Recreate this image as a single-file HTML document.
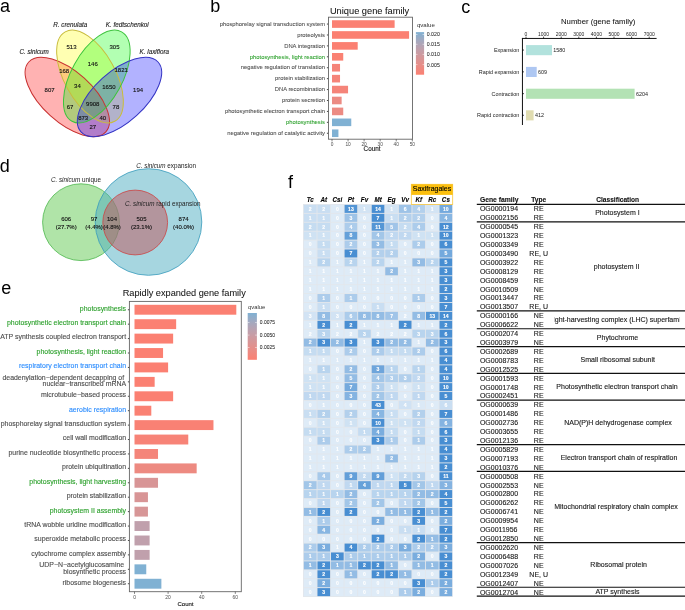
<!DOCTYPE html>
<html><head><meta charset="utf-8"><style>
html,body{margin:0;padding:0;background:#fff;}
body{width:685px;height:610px;overflow:hidden;}
svg{display:block;will-change:transform;font-family:"Liberation Sans",sans-serif;}
</style></head><body>
<svg width="685" height="610" viewBox="0 0 685 610">
<text x="0.00" y="12.30" font-size="18" text-anchor="start" fill="#000">a</text>
<text x="210.30" y="12.30" font-size="18" text-anchor="start" fill="#000">b</text>
<text x="461.20" y="12.80" font-size="18" text-anchor="start" fill="#000">c</text>
<text x="-0.30" y="171.60" font-size="18" text-anchor="start" fill="#000">d</text>
<text x="1.30" y="293.80" font-size="18" text-anchor="start" fill="#000">e</text>
<text x="288.00" y="187.50" font-size="18" text-anchor="start" fill="#000">f</text>
<ellipse cx="67.30" cy="96.95" rx="52.0" ry="25.3" transform="rotate(42.2 67.30 96.95)" fill="#ff0000" fill-opacity="0.3"/>
<ellipse cx="90.00" cy="76.55" rx="51.1" ry="25.5" transform="rotate(61.0 90.00 76.55)" fill="#ffff00" fill-opacity="0.3"/>
<ellipse cx="96.80" cy="76.55" rx="51.1" ry="25.5" transform="rotate(119.0 96.80 76.55)" fill="#00ff00" fill-opacity="0.3"/>
<ellipse cx="119.50" cy="96.95" rx="52.0" ry="25.3" transform="rotate(137.8 119.50 96.95)" fill="#0000ff" fill-opacity="0.3"/>
<ellipse cx="67.30" cy="96.95" rx="52.0" ry="25.3" transform="rotate(42.2 67.30 96.95)" fill="none" stroke="#c83030" stroke-width="1"/>
<ellipse cx="90.00" cy="76.55" rx="51.1" ry="25.5" transform="rotate(61.0 90.00 76.55)" fill="none" stroke="#c9bd3c" stroke-width="1"/>
<ellipse cx="96.80" cy="76.55" rx="51.1" ry="25.5" transform="rotate(119.0 96.80 76.55)" fill="none" stroke="#3cc43c" stroke-width="1"/>
<ellipse cx="119.50" cy="96.95" rx="52.0" ry="25.3" transform="rotate(137.8 119.50 96.95)" fill="none" stroke="#3434c4" stroke-width="1"/>
<text x="71.50" y="48.85" font-size="6.0" text-anchor="middle" fill="#111" stroke="#111" stroke-width="0.12">513</text>
<text x="114.50" y="48.85" font-size="6.0" text-anchor="middle" fill="#111" stroke="#111" stroke-width="0.12">305</text>
<text x="92.80" y="65.75" font-size="6.0" text-anchor="middle" fill="#111" stroke="#111" stroke-width="0.12">146</text>
<text x="64.20" y="73.05" font-size="6.0" text-anchor="middle" fill="#111" stroke="#111" stroke-width="0.12">168</text>
<text x="121.20" y="72.25" font-size="6.0" text-anchor="middle" fill="#111" stroke="#111" stroke-width="0.12">1821</text>
<text x="49.60" y="91.75" font-size="6.0" text-anchor="middle" fill="#111" stroke="#111" stroke-width="0.12">807</text>
<text x="77.40" y="88.25" font-size="6.0" text-anchor="middle" fill="#111" stroke="#111" stroke-width="0.12">34</text>
<text x="108.90" y="88.85" font-size="6.0" text-anchor="middle" fill="#111" stroke="#111" stroke-width="0.12">1650</text>
<text x="138.10" y="92.05" font-size="6.0" text-anchor="middle" fill="#111" stroke="#111" stroke-width="0.12">194</text>
<text x="70.10" y="108.75" font-size="6.0" text-anchor="middle" fill="#111" stroke="#111" stroke-width="0.12">67</text>
<text x="92.80" y="105.75" font-size="6.0" text-anchor="middle" fill="#111" stroke="#111" stroke-width="0.12">9908</text>
<text x="115.90" y="109.35" font-size="6.0" text-anchor="middle" fill="#111" stroke="#111" stroke-width="0.12">78</text>
<text x="83.20" y="119.85" font-size="6.0" text-anchor="middle" fill="#111" stroke="#111" stroke-width="0.12">873</text>
<text x="102.80" y="119.85" font-size="6.0" text-anchor="middle" fill="#111" stroke="#111" stroke-width="0.12">40</text>
<text x="92.80" y="129.15" font-size="6.0" text-anchor="middle" fill="#111" stroke="#111" stroke-width="0.12">27</text>
<text x="53.30" y="27.00" font-size="6.3" text-anchor="start" fill="#222" stroke="#222" stroke-width="0.12" font-style="italic">R. crenulata</text>
<text x="19.40" y="54.00" font-size="6.3" text-anchor="start" fill="#222" stroke="#222" stroke-width="0.12" font-style="italic">C. sinicum</text>
<text x="105.70" y="27.00" font-size="6.3" text-anchor="start" fill="#222" stroke="#222" stroke-width="0.12" font-style="italic">K. fedtschenkoi</text>
<text x="139.60" y="54.20" font-size="6.3" text-anchor="start" fill="#222" stroke="#222" stroke-width="0.12" font-style="italic">K. laxiflora</text>
<text x="369.60" y="14.30" font-size="9.27" text-anchor="middle" fill="#111" stroke="#111" stroke-width="0.05">Unique gene family</text>
<rect x="332.0" y="20.25" width="62.63" height="7.6" fill="#fb8072"/>
<line x1="326.9" y1="24.05" x2="328.5" y2="24.05" stroke="#333" stroke-width="0.9"/>
<text x="325.00" y="25.80" font-size="5.83" text-anchor="end" fill="#4d4d4d" stroke="#4d4d4d" stroke-width="0.07">phosphorelay signal transduction system</text>
<rect x="332.0" y="31.17" width="77.09" height="7.6" fill="#fb8072"/>
<line x1="326.9" y1="34.97" x2="328.5" y2="34.97" stroke="#333" stroke-width="0.9"/>
<text x="325.00" y="36.72" font-size="5.83" text-anchor="end" fill="#4d4d4d" stroke="#4d4d4d" stroke-width="0.07">proteolysis</text>
<rect x="332.0" y="42.09" width="25.70" height="7.6" fill="#fb8072"/>
<line x1="326.9" y1="45.89" x2="328.5" y2="45.89" stroke="#333" stroke-width="0.9"/>
<text x="325.00" y="47.64" font-size="5.83" text-anchor="end" fill="#4d4d4d" stroke="#4d4d4d" stroke-width="0.07">DNA integration</text>
<rect x="332.0" y="53.01" width="11.24" height="7.6" fill="#fa8173"/>
<line x1="326.9" y1="56.81" x2="328.5" y2="56.81" stroke="#333" stroke-width="0.9"/>
<text x="325.00" y="58.56" font-size="5.83" text-anchor="end" fill="#2ca02c" stroke="#2ca02c" stroke-width="0.07">photosynthesis, light reaction</text>
<rect x="332.0" y="63.93" width="8.03" height="7.6" fill="#f58479"/>
<line x1="326.9" y1="67.73" x2="328.5" y2="67.73" stroke="#333" stroke-width="0.9"/>
<text x="325.00" y="69.48" font-size="5.83" text-anchor="end" fill="#4d4d4d" stroke="#4d4d4d" stroke-width="0.07">negative regulation of translation</text>
<rect x="332.0" y="74.85" width="8.03" height="7.6" fill="#f58479"/>
<line x1="326.9" y1="78.65" x2="328.5" y2="78.65" stroke="#333" stroke-width="0.9"/>
<text x="325.00" y="80.40" font-size="5.83" text-anchor="end" fill="#4d4d4d" stroke="#4d4d4d" stroke-width="0.07">protein stabilization</text>
<rect x="332.0" y="85.77" width="16.06" height="7.6" fill="#f58479"/>
<line x1="326.9" y1="89.57" x2="328.5" y2="89.57" stroke="#333" stroke-width="0.9"/>
<text x="325.00" y="91.32" font-size="5.83" text-anchor="end" fill="#4d4d4d" stroke="#4d4d4d" stroke-width="0.07">DNA recombination</text>
<rect x="332.0" y="96.69" width="9.64" height="7.6" fill="#ec8b83"/>
<line x1="326.9" y1="100.49" x2="328.5" y2="100.49" stroke="#333" stroke-width="0.9"/>
<text x="325.00" y="102.24" font-size="5.83" text-anchor="end" fill="#4d4d4d" stroke="#4d4d4d" stroke-width="0.07">protein secretion</text>
<rect x="332.0" y="107.61" width="11.24" height="7.6" fill="#ec8b83"/>
<line x1="326.9" y1="111.41" x2="328.5" y2="111.41" stroke="#333" stroke-width="0.9"/>
<text x="325.00" y="113.16" font-size="5.83" text-anchor="end" fill="#4d4d4d" stroke="#4d4d4d" stroke-width="0.07">photosynthetic electron transport chain</text>
<rect x="332.0" y="118.53" width="19.27" height="7.6" fill="#80b1d3"/>
<line x1="326.9" y1="122.33" x2="328.5" y2="122.33" stroke="#333" stroke-width="0.9"/>
<text x="325.00" y="124.08" font-size="5.83" text-anchor="end" fill="#2ca02c" stroke="#2ca02c" stroke-width="0.07">photosynthesis</text>
<rect x="332.0" y="129.45" width="6.42" height="7.6" fill="#80b1d3"/>
<line x1="326.9" y1="133.25" x2="328.5" y2="133.25" stroke="#333" stroke-width="0.9"/>
<text x="325.00" y="135.00" font-size="5.83" text-anchor="end" fill="#4d4d4d" stroke="#4d4d4d" stroke-width="0.07">negative regulation of catalytic activity</text>
<rect x="328.5" y="17.2" width="84.0" height="121.99999999999999" fill="none" stroke="#666" stroke-width="0.9"/>
<line x1="332.00" y1="139.2" x2="332.00" y2="141.39999999999998" stroke="#333" stroke-width="0.6"/>
<text x="332.00" y="146.30" font-size="4.8" text-anchor="middle" fill="#4d4d4d">0</text>
<line x1="348.06" y1="139.2" x2="348.06" y2="141.39999999999998" stroke="#333" stroke-width="0.6"/>
<text x="348.06" y="146.30" font-size="4.8" text-anchor="middle" fill="#4d4d4d">10</text>
<line x1="364.12" y1="139.2" x2="364.12" y2="141.39999999999998" stroke="#333" stroke-width="0.6"/>
<text x="364.12" y="146.30" font-size="4.8" text-anchor="middle" fill="#4d4d4d">20</text>
<line x1="380.18" y1="139.2" x2="380.18" y2="141.39999999999998" stroke="#333" stroke-width="0.6"/>
<text x="380.18" y="146.30" font-size="4.8" text-anchor="middle" fill="#4d4d4d">30</text>
<line x1="396.24" y1="139.2" x2="396.24" y2="141.39999999999998" stroke="#333" stroke-width="0.6"/>
<text x="396.24" y="146.30" font-size="4.8" text-anchor="middle" fill="#4d4d4d">40</text>
<line x1="412.30" y1="139.2" x2="412.30" y2="141.39999999999998" stroke="#333" stroke-width="0.6"/>
<text x="412.30" y="146.30" font-size="4.8" text-anchor="middle" fill="#4d4d4d">50</text>
<text x="372.00" y="151.30" font-size="6.3" text-anchor="middle" fill="#111" stroke="#111" stroke-width="0.12">Count</text>
<defs><linearGradient id="gq" x1="0" y1="1" x2="0" y2="0"><stop offset="0" stop-color="#fb8072"/><stop offset="0.2" stop-color="#ea8c85"/><stop offset="0.4" stop-color="#d69698"/><stop offset="0.6" stop-color="#c0a0ac"/><stop offset="0.8" stop-color="#a4a9bf"/><stop offset="1" stop-color="#80b1d3"/></linearGradient></defs>
<text x="416.90" y="26.70" font-size="6.1" text-anchor="start" fill="#333">qvalue</text>
<rect x="415.9" y="32.1" width="8.2" height="42.6" fill="url(#gq)"/>
<line x1="415.9" y1="34.5" x2="417.5" y2="34.5" stroke="#fff" stroke-width="0.5"/>
<line x1="422.5" y1="34.5" x2="424.1" y2="34.5" stroke="#fff" stroke-width="0.5"/>
<text x="426.80" y="36.40" font-size="5.2" text-anchor="start" fill="#222" stroke="#222" stroke-width="0.04">0.020</text>
<line x1="415.9" y1="44.3" x2="417.5" y2="44.3" stroke="#fff" stroke-width="0.5"/>
<line x1="422.5" y1="44.3" x2="424.1" y2="44.3" stroke="#fff" stroke-width="0.5"/>
<text x="426.80" y="46.20" font-size="5.2" text-anchor="start" fill="#222" stroke="#222" stroke-width="0.04">0.015</text>
<line x1="415.9" y1="54.4" x2="417.5" y2="54.4" stroke="#fff" stroke-width="0.5"/>
<line x1="422.5" y1="54.4" x2="424.1" y2="54.4" stroke="#fff" stroke-width="0.5"/>
<text x="426.80" y="56.30" font-size="5.2" text-anchor="start" fill="#222" stroke="#222" stroke-width="0.04">0.010</text>
<line x1="415.9" y1="64.6" x2="417.5" y2="64.6" stroke="#fff" stroke-width="0.5"/>
<line x1="422.5" y1="64.6" x2="424.1" y2="64.6" stroke="#fff" stroke-width="0.5"/>
<text x="426.80" y="66.50" font-size="5.2" text-anchor="start" fill="#222" stroke="#222" stroke-width="0.04">0.005</text>
<text x="598.20" y="23.80" font-size="7.74" text-anchor="middle" fill="#111" stroke="#111" stroke-width="0.05">Number (gene family)</text>
<line x1="521.95" y1="38.45" x2="656.6" y2="38.45" stroke="#111" stroke-width="1.0"/>
<line x1="522.45" y1="37.95" x2="522.45" y2="125.0" stroke="#111" stroke-width="1.0"/>
<line x1="526.00" y1="36.6" x2="526.00" y2="38.5" stroke="#000" stroke-width="0.7"/>
<text x="526.00" y="35.80" font-size="5.0" text-anchor="middle" fill="#222">0</text>
<line x1="543.60" y1="36.6" x2="543.60" y2="38.5" stroke="#000" stroke-width="0.7"/>
<text x="543.60" y="35.80" font-size="5.0" text-anchor="middle" fill="#222">1000</text>
<line x1="561.20" y1="36.6" x2="561.20" y2="38.5" stroke="#000" stroke-width="0.7"/>
<text x="561.20" y="35.80" font-size="5.0" text-anchor="middle" fill="#222">2000</text>
<line x1="578.80" y1="36.6" x2="578.80" y2="38.5" stroke="#000" stroke-width="0.7"/>
<text x="578.80" y="35.80" font-size="5.0" text-anchor="middle" fill="#222">3000</text>
<line x1="596.40" y1="36.6" x2="596.40" y2="38.5" stroke="#000" stroke-width="0.7"/>
<text x="596.40" y="35.80" font-size="5.0" text-anchor="middle" fill="#222">4000</text>
<line x1="614.00" y1="36.6" x2="614.00" y2="38.5" stroke="#000" stroke-width="0.7"/>
<text x="614.00" y="35.80" font-size="5.0" text-anchor="middle" fill="#222">5000</text>
<line x1="631.60" y1="36.6" x2="631.60" y2="38.5" stroke="#000" stroke-width="0.7"/>
<text x="631.60" y="35.80" font-size="5.0" text-anchor="middle" fill="#222">6000</text>
<line x1="649.20" y1="36.6" x2="649.20" y2="38.5" stroke="#000" stroke-width="0.7"/>
<text x="649.20" y="35.80" font-size="5.0" text-anchor="middle" fill="#222">7000</text>
<rect x="526.0" y="45.1" width="26.00" height="10.1" fill="#b2e2dd"/>
<line x1="522.4" y1="50.05" x2="523.9" y2="50.05" stroke="#000" stroke-width="0.8"/>
<text x="519.30" y="52.00" font-size="5.44" text-anchor="end" fill="#1a1a1a">Expansion</text>
<text x="553.30" y="52.00" font-size="5.4" text-anchor="start" fill="#1a1a1a">1580</text>
<rect x="526.0" y="66.9" width="10.70" height="10.1" fill="#aec7f2"/>
<line x1="522.4" y1="71.85" x2="523.9" y2="71.85" stroke="#000" stroke-width="0.8"/>
<text x="519.30" y="73.80" font-size="5.44" text-anchor="end" fill="#1a1a1a">Rapid expansion</text>
<text x="538.00" y="73.80" font-size="5.4" text-anchor="start" fill="#1a1a1a">609</text>
<rect x="526.0" y="88.7" width="108.60" height="10.1" fill="#b3e2b4"/>
<line x1="522.4" y1="93.65" x2="523.9" y2="93.65" stroke="#000" stroke-width="0.8"/>
<text x="519.30" y="95.60" font-size="5.44" text-anchor="end" fill="#1a1a1a">Contraction</text>
<text x="635.90" y="95.60" font-size="5.4" text-anchor="start" fill="#1a1a1a">6204</text>
<rect x="526.0" y="110.3" width="7.60" height="10.1" fill="#e0dcb0"/>
<line x1="522.4" y1="115.25" x2="523.9" y2="115.25" stroke="#000" stroke-width="0.8"/>
<text x="519.30" y="117.20" font-size="5.44" text-anchor="end" fill="#1a1a1a">Rapid contraction</text>
<text x="534.90" y="117.20" font-size="5.4" text-anchor="start" fill="#1a1a1a">412</text>
<circle cx="81.0" cy="222.2" r="38.4" fill="#61c951" fill-opacity="0.5" stroke="#4cb84c" stroke-width="0.8"/>
<circle cx="148.5" cy="222.0" r="53.3" fill="#4dadc1" fill-opacity="0.5" stroke="#3a9cbc" stroke-width="0.8"/>
<circle cx="135.2" cy="222.5" r="32.4" fill="#c2565c" fill-opacity="0.5" stroke="#cc4444" stroke-width="0.8"/>
<text x="66.20" y="221.20" font-size="6.0" text-anchor="middle" fill="#111" stroke="#111" stroke-width="0.12">606</text>
<text x="66.20" y="228.60" font-size="6.0" text-anchor="middle" fill="#111" stroke="#111" stroke-width="0.12">(27.7%)</text>
<text x="94.00" y="221.20" font-size="6.0" text-anchor="middle" fill="#111" stroke="#111" stroke-width="0.12">97</text>
<text x="94.00" y="228.60" font-size="6.0" text-anchor="middle" fill="#111" stroke="#111" stroke-width="0.12">(4.4%)</text>
<text x="112.00" y="221.20" font-size="6.0" text-anchor="middle" fill="#111" stroke="#111" stroke-width="0.12">104</text>
<text x="112.00" y="228.60" font-size="6.0" text-anchor="middle" fill="#111" stroke="#111" stroke-width="0.12">(4.8%)</text>
<text x="141.50" y="221.20" font-size="6.0" text-anchor="middle" fill="#111" stroke="#111" stroke-width="0.12">505</text>
<text x="141.50" y="228.60" font-size="6.0" text-anchor="middle" fill="#111" stroke="#111" stroke-width="0.12">(23.1%)</text>
<text x="183.60" y="221.20" font-size="6.0" text-anchor="middle" fill="#111" stroke="#111" stroke-width="0.12">874</text>
<text x="183.60" y="228.60" font-size="6.0" text-anchor="middle" fill="#111" stroke="#111" stroke-width="0.12">(40.0%)</text>
<text x="50.9" y="182.0" font-size="6.3" fill="#222"><tspan font-style="italic">C. sinicum</tspan> unique</text>
<text x="136.2" y="167.7" font-size="6.3" fill="#222"><tspan font-style="italic">C. sinicum</tspan> expansion</text>
<text x="125.0" y="205.9" font-size="6.3" fill="#222"><tspan font-style="italic">C. sinicum</tspan> rapid expansion</text>
<text x="184.20" y="295.70" font-size="9.2" text-anchor="middle" fill="#111" stroke="#111" stroke-width="0.05">Rapidly expanded gene family</text>
<rect x="134.5" y="304.80" width="101.81" height="9.9" fill="#fb8072"/>
<line x1="127.9" y1="309.75" x2="129.4" y2="309.75" stroke="#333" stroke-width="0.9"/>
<text x="126.10" y="310.65" font-size="6.95" text-anchor="end" fill="#2ca02c" stroke="#2ca02c" stroke-width="0.12">photosynthesis</text>
<rect x="134.5" y="319.22" width="41.66" height="9.9" fill="#fb8072"/>
<line x1="127.9" y1="324.17" x2="129.4" y2="324.17" stroke="#333" stroke-width="0.9"/>
<text x="126.10" y="325.07" font-size="6.95" text-anchor="end" fill="#2ca02c" stroke="#2ca02c" stroke-width="0.12">photosynthetic electron transport chain</text>
<rect x="134.5" y="333.64" width="38.64" height="9.9" fill="#fb8072"/>
<line x1="127.9" y1="338.59" x2="129.4" y2="338.59" stroke="#333" stroke-width="0.9"/>
<text x="126.10" y="339.49" font-size="6.95" text-anchor="end" fill="#4d4d4d" stroke="#4d4d4d" stroke-width="0.12">ATP synthesis coupled electron transport</text>
<rect x="134.5" y="348.06" width="28.56" height="9.9" fill="#fb8072"/>
<line x1="127.9" y1="353.01" x2="129.4" y2="353.01" stroke="#333" stroke-width="0.9"/>
<text x="126.10" y="353.91" font-size="6.95" text-anchor="end" fill="#2ca02c" stroke="#2ca02c" stroke-width="0.12">photosynthesis, light reaction</text>
<rect x="134.5" y="362.48" width="33.60" height="9.9" fill="#fb8072"/>
<line x1="127.9" y1="367.43" x2="129.4" y2="367.43" stroke="#333" stroke-width="0.9"/>
<text x="126.10" y="368.33" font-size="6.95" text-anchor="end" fill="#2b8cff" stroke="#2b8cff" stroke-width="0.12">respiratory electron transport chain</text>
<rect x="134.5" y="376.90" width="20.16" height="9.9" fill="#fb8072"/>
<line x1="127.9" y1="381.85" x2="129.4" y2="381.85" stroke="#333" stroke-width="0.9"/>
<text x="124.17" y="379.95" font-size="6.95" text-anchor="end" fill="#4d4d4d" stroke="#4d4d4d" stroke-width="0.12">deadenylation−dependent decapping of</text>
<text x="126.10" y="386.45" font-size="6.95" text-anchor="end" fill="#4d4d4d" stroke="#4d4d4d" stroke-width="0.12">nuclear−transcribed mRNA</text>
<rect x="134.5" y="391.32" width="38.64" height="9.9" fill="#fb8072"/>
<line x1="127.9" y1="396.27" x2="129.4" y2="396.27" stroke="#333" stroke-width="0.9"/>
<text x="126.10" y="397.17" font-size="6.95" text-anchor="end" fill="#4d4d4d" stroke="#4d4d4d" stroke-width="0.12">microtubule−based process</text>
<rect x="134.5" y="405.74" width="16.80" height="9.9" fill="#fa8173"/>
<line x1="127.9" y1="410.69" x2="129.4" y2="410.69" stroke="#333" stroke-width="0.9"/>
<text x="126.10" y="411.59" font-size="6.95" text-anchor="end" fill="#2b8cff" stroke="#2b8cff" stroke-width="0.12">aerobic respiration</text>
<rect x="134.5" y="420.16" width="78.96" height="9.9" fill="#f98174"/>
<line x1="127.9" y1="425.11" x2="129.4" y2="425.11" stroke="#333" stroke-width="0.9"/>
<text x="126.10" y="426.01" font-size="6.95" text-anchor="end" fill="#4d4d4d" stroke="#4d4d4d" stroke-width="0.12">phosphorelay signal transduction system</text>
<rect x="134.5" y="434.58" width="53.76" height="9.9" fill="#f78377"/>
<line x1="127.9" y1="439.53" x2="129.4" y2="439.53" stroke="#333" stroke-width="0.9"/>
<text x="126.10" y="440.43" font-size="6.95" text-anchor="end" fill="#4d4d4d" stroke="#4d4d4d" stroke-width="0.12">cell wall modification</text>
<rect x="134.5" y="449.00" width="23.52" height="9.9" fill="#f4857a"/>
<line x1="127.9" y1="453.95" x2="129.4" y2="453.95" stroke="#333" stroke-width="0.9"/>
<text x="126.10" y="454.85" font-size="6.95" text-anchor="end" fill="#4d4d4d" stroke="#4d4d4d" stroke-width="0.12">purine nucleotide biosynthetic process</text>
<rect x="134.5" y="463.42" width="62.16" height="9.9" fill="#ed8a81"/>
<line x1="127.9" y1="468.37" x2="129.4" y2="468.37" stroke="#333" stroke-width="0.9"/>
<text x="126.10" y="469.27" font-size="6.95" text-anchor="end" fill="#4d4d4d" stroke="#4d4d4d" stroke-width="0.12">protein ubiquitination</text>
<rect x="134.5" y="477.84" width="23.52" height="9.9" fill="#d89596"/>
<line x1="127.9" y1="482.79" x2="129.4" y2="482.79" stroke="#333" stroke-width="0.9"/>
<text x="126.10" y="483.69" font-size="6.95" text-anchor="end" fill="#2ca02c" stroke="#2ca02c" stroke-width="0.12">photosynthesis, light harvesting</text>
<rect x="134.5" y="492.26" width="13.44" height="9.9" fill="#d89596"/>
<line x1="127.9" y1="497.21" x2="129.4" y2="497.21" stroke="#333" stroke-width="0.9"/>
<text x="126.10" y="498.11" font-size="6.95" text-anchor="end" fill="#4d4d4d" stroke="#4d4d4d" stroke-width="0.12">protein stabilization</text>
<rect x="134.5" y="506.68" width="13.44" height="9.9" fill="#d79697"/>
<line x1="127.9" y1="511.63" x2="129.4" y2="511.63" stroke="#333" stroke-width="0.9"/>
<text x="126.10" y="512.53" font-size="6.95" text-anchor="end" fill="#2ca02c" stroke="#2ca02c" stroke-width="0.12">photosystem II assembly</text>
<rect x="134.5" y="521.10" width="15.12" height="9.9" fill="#c0a0ac"/>
<line x1="127.9" y1="526.05" x2="129.4" y2="526.05" stroke="#333" stroke-width="0.9"/>
<text x="126.10" y="526.95" font-size="6.95" text-anchor="end" fill="#4d4d4d" stroke="#4d4d4d" stroke-width="0.12">tRNA wobble uridine modification</text>
<rect x="134.5" y="535.52" width="15.12" height="9.9" fill="#c0a0ac"/>
<line x1="127.9" y1="540.47" x2="129.4" y2="540.47" stroke="#333" stroke-width="0.9"/>
<text x="126.10" y="541.37" font-size="6.95" text-anchor="end" fill="#4d4d4d" stroke="#4d4d4d" stroke-width="0.12">superoxide metabolic process</text>
<rect x="134.5" y="549.94" width="15.12" height="9.9" fill="#c0a0ac"/>
<line x1="127.9" y1="554.89" x2="129.4" y2="554.89" stroke="#333" stroke-width="0.9"/>
<text x="126.10" y="555.79" font-size="6.95" text-anchor="end" fill="#4d4d4d" stroke="#4d4d4d" stroke-width="0.12">cytochrome complex assembly</text>
<rect x="134.5" y="564.36" width="11.76" height="9.9" fill="#80b1d3"/>
<line x1="127.9" y1="569.31" x2="129.4" y2="569.31" stroke="#333" stroke-width="0.9"/>
<text x="124.17" y="567.41" font-size="6.95" text-anchor="end" fill="#4d4d4d" stroke="#4d4d4d" stroke-width="0.12">UDP−N−acetylglucosamine</text>
<text x="126.10" y="573.91" font-size="6.95" text-anchor="end" fill="#4d4d4d" stroke="#4d4d4d" stroke-width="0.12">biosynthetic process</text>
<rect x="134.5" y="578.78" width="26.88" height="9.9" fill="#80b1d3"/>
<line x1="127.9" y1="583.73" x2="129.4" y2="583.73" stroke="#333" stroke-width="0.9"/>
<text x="126.10" y="584.63" font-size="6.95" text-anchor="end" fill="#4d4d4d" stroke="#4d4d4d" stroke-width="0.12">ribosome biogenesis</text>
<rect x="129.4" y="301.4" width="111.90" height="290.30" fill="none" stroke="#666" stroke-width="0.9"/>
<line x1="134.50" y1="591.7" x2="134.50" y2="593.9000000000001" stroke="#333" stroke-width="0.6"/>
<text x="134.50" y="598.60" font-size="4.9" text-anchor="middle" fill="#4d4d4d">0</text>
<line x1="168.10" y1="591.7" x2="168.10" y2="593.9000000000001" stroke="#333" stroke-width="0.6"/>
<text x="168.10" y="598.60" font-size="4.9" text-anchor="middle" fill="#4d4d4d">20</text>
<line x1="201.70" y1="591.7" x2="201.70" y2="593.9000000000001" stroke="#333" stroke-width="0.6"/>
<text x="201.70" y="598.60" font-size="4.9" text-anchor="middle" fill="#4d4d4d">40</text>
<line x1="235.30" y1="591.7" x2="235.30" y2="593.9000000000001" stroke="#333" stroke-width="0.6"/>
<text x="235.30" y="598.60" font-size="4.9" text-anchor="middle" fill="#4d4d4d">60</text>
<text x="185.50" y="605.50" font-size="6.0" text-anchor="middle" fill="#111" stroke="#111" stroke-width="0.12">Count</text>
<defs><linearGradient id="gq2" x1="0" y1="1" x2="0" y2="0"><stop offset="0" stop-color="#fb8072"/><stop offset="0.2" stop-color="#ea8c85"/><stop offset="0.4" stop-color="#d69698"/><stop offset="0.6" stop-color="#c0a0ac"/><stop offset="0.8" stop-color="#a4a9bf"/><stop offset="1" stop-color="#80b1d3"/></linearGradient></defs>
<text x="248.10" y="308.90" font-size="5.8" text-anchor="start" fill="#333">qvalue</text>
<rect x="247.7" y="313.0" width="9.2" height="46.8" fill="url(#gq2)"/>
<line x1="247.7" y1="322.5" x2="249.5" y2="322.5" stroke="#fff" stroke-width="0.5"/>
<line x1="255.1" y1="322.5" x2="256.9" y2="322.5" stroke="#fff" stroke-width="0.5"/>
<text x="259.80" y="324.30" font-size="4.95" text-anchor="start" fill="#222" stroke="#222" stroke-width="0.04">0.0075</text>
<line x1="247.7" y1="335.1" x2="249.5" y2="335.1" stroke="#fff" stroke-width="0.5"/>
<line x1="255.1" y1="335.1" x2="256.9" y2="335.1" stroke="#fff" stroke-width="0.5"/>
<text x="259.80" y="336.90" font-size="4.95" text-anchor="start" fill="#222" stroke="#222" stroke-width="0.04">0.0050</text>
<line x1="247.7" y1="347.5" x2="249.5" y2="347.5" stroke="#fff" stroke-width="0.5"/>
<line x1="255.1" y1="347.5" x2="256.9" y2="347.5" stroke="#fff" stroke-width="0.5"/>
<text x="259.80" y="349.30" font-size="4.95" text-anchor="start" fill="#222" stroke="#222" stroke-width="0.04">0.0025</text>
<rect x="411.0" y="184.0" width="42.0" height="10.9" fill="#fcc010"/>
<text transform="translate(432.00 191.00) scale(0.945 1)" font-size="7.4" text-anchor="middle" fill="#000" stroke="#000" stroke-width="0.12">Saxifragales</text>
<text transform="translate(310.28 202.30) scale(0.9 1)" font-size="7.0" text-anchor="middle" fill="#000" stroke="#000" stroke-width="0.12" font-weight="bold" font-style="italic">Tc</text>
<text transform="translate(323.84 202.30) scale(0.9 1)" font-size="7.0" text-anchor="middle" fill="#000" stroke="#000" stroke-width="0.12" font-weight="bold" font-style="italic">At</text>
<text transform="translate(337.40 202.30) scale(0.9 1)" font-size="7.0" text-anchor="middle" fill="#000" stroke="#000" stroke-width="0.12" font-weight="bold" font-style="italic">Csi</text>
<text transform="translate(350.96 202.30) scale(0.9 1)" font-size="7.0" text-anchor="middle" fill="#000" stroke="#000" stroke-width="0.12" font-weight="bold" font-style="italic">Pt</text>
<text transform="translate(364.52 202.30) scale(0.9 1)" font-size="7.0" text-anchor="middle" fill="#000" stroke="#000" stroke-width="0.12" font-weight="bold" font-style="italic">Fv</text>
<text transform="translate(378.08 202.30) scale(0.9 1)" font-size="7.0" text-anchor="middle" fill="#000" stroke="#000" stroke-width="0.12" font-weight="bold" font-style="italic">Mt</text>
<text transform="translate(391.64 202.30) scale(0.9 1)" font-size="7.0" text-anchor="middle" fill="#000" stroke="#000" stroke-width="0.12" font-weight="bold" font-style="italic">Eg</text>
<text transform="translate(405.20 202.30) scale(0.9 1)" font-size="7.0" text-anchor="middle" fill="#000" stroke="#000" stroke-width="0.12" font-weight="bold" font-style="italic">Vv</text>
<text transform="translate(418.76 202.30) scale(0.9 1)" font-size="7.0" text-anchor="middle" fill="#000" stroke="#000" stroke-width="0.12" font-weight="bold" font-style="italic">Kf</text>
<text transform="translate(432.32 202.30) scale(0.9 1)" font-size="7.0" text-anchor="middle" fill="#000" stroke="#000" stroke-width="0.12" font-weight="bold" font-style="italic">Rc</text>
<text transform="translate(445.88 202.30) scale(0.9 1)" font-size="7.0" text-anchor="middle" fill="#000" stroke="#000" stroke-width="0.12" font-weight="bold" font-style="italic">Cs</text>
<rect x="303.0" y="204.0" width="149.76" height="393.03" fill="#e3e7ec"/>
<rect x="303.90" y="204.90" width="12.66" height="8.01" fill="#c9def2"/>
<text x="310.23" y="210.76" font-size="5.1" text-anchor="middle" fill="#fff" stroke="#fff" stroke-width="0.12" font-weight="bold">2</text>
<rect x="317.46" y="204.90" width="12.66" height="8.01" fill="#c9def2"/>
<text x="323.79" y="210.76" font-size="5.1" text-anchor="middle" fill="#fff" stroke="#fff" stroke-width="0.12" font-weight="bold">2</text>
<rect x="331.02" y="204.90" width="12.66" height="8.01" fill="#deebf7"/>
<text x="337.35" y="210.76" font-size="5.1" text-anchor="middle" fill="#fff" stroke="#fff" stroke-width="0.12" font-weight="bold">0</text>
<rect x="344.58" y="204.90" width="12.66" height="8.01" fill="#5395d5"/>
<text x="350.91" y="210.76" font-size="5.1" text-anchor="middle" fill="#fff" stroke="#fff" stroke-width="0.12" font-weight="bold">13</text>
<rect x="358.14" y="204.90" width="12.66" height="8.01" fill="#d3e4f4"/>
<text x="364.47" y="210.76" font-size="5.1" text-anchor="middle" fill="#fff" stroke="#fff" stroke-width="0.12" font-weight="bold">1</text>
<rect x="371.70" y="204.90" width="12.66" height="8.01" fill="#488ed2"/>
<text x="378.03" y="210.76" font-size="5.1" text-anchor="middle" fill="#fff" stroke="#fff" stroke-width="0.12" font-weight="bold">14</text>
<rect x="385.26" y="204.90" width="12.66" height="8.01" fill="#d3e4f4"/>
<text x="391.59" y="210.76" font-size="5.1" text-anchor="middle" fill="#fff" stroke="#fff" stroke-width="0.12" font-weight="bold">1</text>
<rect x="398.82" y="204.90" width="12.66" height="8.01" fill="#9ec3e7"/>
<text x="405.15" y="210.76" font-size="5.1" text-anchor="middle" fill="#fff" stroke="#fff" stroke-width="0.12" font-weight="bold">6</text>
<rect x="412.38" y="204.90" width="12.66" height="8.01" fill="#b3d0ec"/>
<text x="418.71" y="210.76" font-size="5.1" text-anchor="middle" fill="#fff" stroke="#fff" stroke-width="0.12" font-weight="bold">4</text>
<rect x="425.94" y="204.90" width="12.66" height="8.01" fill="#d3e4f4"/>
<text x="432.27" y="210.76" font-size="5.1" text-anchor="middle" fill="#fff" stroke="#fff" stroke-width="0.12" font-weight="bold">1</text>
<rect x="439.50" y="204.90" width="12.66" height="8.01" fill="#73a9dd"/>
<text x="445.83" y="210.76" font-size="5.1" text-anchor="middle" fill="#fff" stroke="#fff" stroke-width="0.12" font-weight="bold">10</text>
<rect x="303.90" y="213.81" width="12.66" height="8.01" fill="#c9def2"/>
<text x="310.23" y="219.67" font-size="5.1" text-anchor="middle" fill="#fff" stroke="#fff" stroke-width="0.12" font-weight="bold">1</text>
<rect x="317.46" y="213.81" width="12.66" height="8.01" fill="#c9def2"/>
<text x="323.79" y="219.67" font-size="5.1" text-anchor="middle" fill="#fff" stroke="#fff" stroke-width="0.12" font-weight="bold">1</text>
<rect x="331.02" y="213.81" width="12.66" height="8.01" fill="#deebf7"/>
<text x="337.35" y="219.67" font-size="5.1" text-anchor="middle" fill="#fff" stroke="#fff" stroke-width="0.12" font-weight="bold">0</text>
<rect x="344.58" y="213.81" width="12.66" height="8.01" fill="#9ec3e7"/>
<text x="350.91" y="219.67" font-size="5.1" text-anchor="middle" fill="#fff" stroke="#fff" stroke-width="0.12" font-weight="bold">3</text>
<rect x="358.14" y="213.81" width="12.66" height="8.01" fill="#deebf7"/>
<text x="364.47" y="219.67" font-size="5.1" text-anchor="middle" fill="#fff" stroke="#fff" stroke-width="0.12" font-weight="bold">0</text>
<rect x="371.70" y="213.81" width="12.66" height="8.01" fill="#488ed2"/>
<text x="378.03" y="219.67" font-size="5.1" text-anchor="middle" fill="#fff" stroke="#fff" stroke-width="0.12" font-weight="bold">7</text>
<rect x="385.26" y="213.81" width="12.66" height="8.01" fill="#c9def2"/>
<text x="391.59" y="219.67" font-size="5.1" text-anchor="middle" fill="#fff" stroke="#fff" stroke-width="0.12" font-weight="bold">1</text>
<rect x="398.82" y="213.81" width="12.66" height="8.01" fill="#b3d0ec"/>
<text x="405.15" y="219.67" font-size="5.1" text-anchor="middle" fill="#fff" stroke="#fff" stroke-width="0.12" font-weight="bold">2</text>
<rect x="412.38" y="213.81" width="12.66" height="8.01" fill="#b3d0ec"/>
<text x="418.71" y="219.67" font-size="5.1" text-anchor="middle" fill="#fff" stroke="#fff" stroke-width="0.12" font-weight="bold">2</text>
<rect x="425.94" y="213.81" width="12.66" height="8.01" fill="#deebf7"/>
<text x="432.27" y="219.67" font-size="5.1" text-anchor="middle" fill="#fff" stroke="#fff" stroke-width="0.12" font-weight="bold">0</text>
<rect x="439.50" y="213.81" width="12.66" height="8.01" fill="#88b6e2"/>
<text x="445.83" y="219.67" font-size="5.1" text-anchor="middle" fill="#fff" stroke="#fff" stroke-width="0.12" font-weight="bold">4</text>
<rect x="303.90" y="222.72" width="12.66" height="8.01" fill="#c5dcf1"/>
<text x="310.23" y="228.58" font-size="5.1" text-anchor="middle" fill="#fff" stroke="#fff" stroke-width="0.12" font-weight="bold">2</text>
<rect x="317.46" y="222.72" width="12.66" height="8.01" fill="#c5dcf1"/>
<text x="323.79" y="228.58" font-size="5.1" text-anchor="middle" fill="#fff" stroke="#fff" stroke-width="0.12" font-weight="bold">2</text>
<rect x="331.02" y="222.72" width="12.66" height="8.01" fill="#deebf7"/>
<text x="337.35" y="228.58" font-size="5.1" text-anchor="middle" fill="#fff" stroke="#fff" stroke-width="0.12" font-weight="bold">0</text>
<rect x="344.58" y="222.72" width="12.66" height="8.01" fill="#accceb"/>
<text x="350.91" y="228.58" font-size="5.1" text-anchor="middle" fill="#fff" stroke="#fff" stroke-width="0.12" font-weight="bold">4</text>
<rect x="358.14" y="222.72" width="12.66" height="8.01" fill="#deebf7"/>
<text x="364.47" y="228.58" font-size="5.1" text-anchor="middle" fill="#fff" stroke="#fff" stroke-width="0.12" font-weight="bold">0</text>
<rect x="371.70" y="222.72" width="12.66" height="8.01" fill="#5496d5"/>
<text x="378.03" y="228.58" font-size="5.1" text-anchor="middle" fill="#fff" stroke="#fff" stroke-width="0.12" font-weight="bold">11</text>
<rect x="385.26" y="222.72" width="12.66" height="8.01" fill="#a0c4e8"/>
<text x="391.59" y="228.58" font-size="5.1" text-anchor="middle" fill="#fff" stroke="#fff" stroke-width="0.12" font-weight="bold">5</text>
<rect x="398.82" y="222.72" width="12.66" height="8.01" fill="#c5dcf1"/>
<text x="405.15" y="228.58" font-size="5.1" text-anchor="middle" fill="#fff" stroke="#fff" stroke-width="0.12" font-weight="bold">2</text>
<rect x="412.38" y="222.72" width="12.66" height="8.01" fill="#accceb"/>
<text x="418.71" y="228.58" font-size="5.1" text-anchor="middle" fill="#fff" stroke="#fff" stroke-width="0.12" font-weight="bold">4</text>
<rect x="425.94" y="222.72" width="12.66" height="8.01" fill="#deebf7"/>
<text x="432.27" y="228.58" font-size="5.1" text-anchor="middle" fill="#fff" stroke="#fff" stroke-width="0.12" font-weight="bold">0</text>
<rect x="439.50" y="222.72" width="12.66" height="8.01" fill="#488ed2"/>
<text x="445.83" y="228.58" font-size="5.1" text-anchor="middle" fill="#fff" stroke="#fff" stroke-width="0.12" font-weight="bold">12</text>
<rect x="303.90" y="231.64" width="12.66" height="8.01" fill="#cfe2f3"/>
<text x="310.23" y="237.49" font-size="5.1" text-anchor="middle" fill="#fff" stroke="#fff" stroke-width="0.12" font-weight="bold">1</text>
<rect x="317.46" y="231.64" width="12.66" height="8.01" fill="#cfe2f3"/>
<text x="323.79" y="237.49" font-size="5.1" text-anchor="middle" fill="#fff" stroke="#fff" stroke-width="0.12" font-weight="bold">1</text>
<rect x="331.02" y="231.64" width="12.66" height="8.01" fill="#deebf7"/>
<text x="337.35" y="237.49" font-size="5.1" text-anchor="middle" fill="#fff" stroke="#fff" stroke-width="0.12" font-weight="bold">0</text>
<rect x="344.58" y="231.64" width="12.66" height="8.01" fill="#66a1d9"/>
<text x="350.91" y="237.49" font-size="5.1" text-anchor="middle" fill="#fff" stroke="#fff" stroke-width="0.12" font-weight="bold">8</text>
<rect x="358.14" y="231.64" width="12.66" height="8.01" fill="#deebf7"/>
<text x="364.47" y="237.49" font-size="5.1" text-anchor="middle" fill="#fff" stroke="#fff" stroke-width="0.12" font-weight="bold">0</text>
<rect x="371.70" y="231.64" width="12.66" height="8.01" fill="#a2c6e8"/>
<text x="378.03" y="237.49" font-size="5.1" text-anchor="middle" fill="#fff" stroke="#fff" stroke-width="0.12" font-weight="bold">4</text>
<rect x="385.26" y="231.64" width="12.66" height="8.01" fill="#c0d8f0"/>
<text x="391.59" y="237.49" font-size="5.1" text-anchor="middle" fill="#fff" stroke="#fff" stroke-width="0.12" font-weight="bold">2</text>
<rect x="398.82" y="231.64" width="12.66" height="8.01" fill="#c0d8f0"/>
<text x="405.15" y="237.49" font-size="5.1" text-anchor="middle" fill="#fff" stroke="#fff" stroke-width="0.12" font-weight="bold">2</text>
<rect x="412.38" y="231.64" width="12.66" height="8.01" fill="#cfe2f3"/>
<text x="418.71" y="237.49" font-size="5.1" text-anchor="middle" fill="#fff" stroke="#fff" stroke-width="0.12" font-weight="bold">1</text>
<rect x="425.94" y="231.64" width="12.66" height="8.01" fill="#cfe2f3"/>
<text x="432.27" y="237.49" font-size="5.1" text-anchor="middle" fill="#fff" stroke="#fff" stroke-width="0.12" font-weight="bold">1</text>
<rect x="439.50" y="231.64" width="12.66" height="8.01" fill="#488ed2"/>
<text x="445.83" y="237.49" font-size="5.1" text-anchor="middle" fill="#fff" stroke="#fff" stroke-width="0.12" font-weight="bold">10</text>
<rect x="303.90" y="240.55" width="12.66" height="8.01" fill="#deebf7"/>
<text x="310.23" y="246.40" font-size="5.1" text-anchor="middle" fill="#fff" stroke="#fff" stroke-width="0.12" font-weight="bold">0</text>
<rect x="317.46" y="240.55" width="12.66" height="8.01" fill="#c5dcf1"/>
<text x="323.79" y="246.40" font-size="5.1" text-anchor="middle" fill="#fff" stroke="#fff" stroke-width="0.12" font-weight="bold">1</text>
<rect x="331.02" y="240.55" width="12.66" height="8.01" fill="#deebf7"/>
<text x="337.35" y="246.40" font-size="5.1" text-anchor="middle" fill="#fff" stroke="#fff" stroke-width="0.12" font-weight="bold">0</text>
<rect x="344.58" y="240.55" width="12.66" height="8.01" fill="#accceb"/>
<text x="350.91" y="246.40" font-size="5.1" text-anchor="middle" fill="#fff" stroke="#fff" stroke-width="0.12" font-weight="bold">2</text>
<rect x="358.14" y="240.55" width="12.66" height="8.01" fill="#deebf7"/>
<text x="364.47" y="246.40" font-size="5.1" text-anchor="middle" fill="#fff" stroke="#fff" stroke-width="0.12" font-weight="bold">0</text>
<rect x="371.70" y="240.55" width="12.66" height="8.01" fill="#93bce4"/>
<text x="378.03" y="246.40" font-size="5.1" text-anchor="middle" fill="#fff" stroke="#fff" stroke-width="0.12" font-weight="bold">3</text>
<rect x="385.26" y="240.55" width="12.66" height="8.01" fill="#c5dcf1"/>
<text x="391.59" y="246.40" font-size="5.1" text-anchor="middle" fill="#fff" stroke="#fff" stroke-width="0.12" font-weight="bold">1</text>
<rect x="398.82" y="240.55" width="12.66" height="8.01" fill="#deebf7"/>
<text x="405.15" y="246.40" font-size="5.1" text-anchor="middle" fill="#fff" stroke="#fff" stroke-width="0.12" font-weight="bold">0</text>
<rect x="412.38" y="240.55" width="12.66" height="8.01" fill="#accceb"/>
<text x="418.71" y="246.40" font-size="5.1" text-anchor="middle" fill="#fff" stroke="#fff" stroke-width="0.12" font-weight="bold">2</text>
<rect x="425.94" y="240.55" width="12.66" height="8.01" fill="#deebf7"/>
<text x="432.27" y="246.40" font-size="5.1" text-anchor="middle" fill="#fff" stroke="#fff" stroke-width="0.12" font-weight="bold">0</text>
<rect x="439.50" y="240.55" width="12.66" height="8.01" fill="#488ed2"/>
<text x="445.83" y="246.40" font-size="5.1" text-anchor="middle" fill="#fff" stroke="#fff" stroke-width="0.12" font-weight="bold">6</text>
<rect x="303.90" y="249.46" width="12.66" height="8.01" fill="#deebf7"/>
<text x="310.23" y="255.32" font-size="5.1" text-anchor="middle" fill="#fff" stroke="#fff" stroke-width="0.12" font-weight="bold">0</text>
<rect x="317.46" y="249.46" width="12.66" height="8.01" fill="#c9def2"/>
<text x="323.79" y="255.32" font-size="5.1" text-anchor="middle" fill="#fff" stroke="#fff" stroke-width="0.12" font-weight="bold">1</text>
<rect x="331.02" y="249.46" width="12.66" height="8.01" fill="#deebf7"/>
<text x="337.35" y="255.32" font-size="5.1" text-anchor="middle" fill="#fff" stroke="#fff" stroke-width="0.12" font-weight="bold">0</text>
<rect x="344.58" y="249.46" width="12.66" height="8.01" fill="#488ed2"/>
<text x="350.91" y="255.32" font-size="5.1" text-anchor="middle" fill="#fff" stroke="#fff" stroke-width="0.12" font-weight="bold">7</text>
<rect x="358.14" y="249.46" width="12.66" height="8.01" fill="#deebf7"/>
<text x="364.47" y="255.32" font-size="5.1" text-anchor="middle" fill="#fff" stroke="#fff" stroke-width="0.12" font-weight="bold">0</text>
<rect x="371.70" y="249.46" width="12.66" height="8.01" fill="#b3d0ec"/>
<text x="378.03" y="255.32" font-size="5.1" text-anchor="middle" fill="#fff" stroke="#fff" stroke-width="0.12" font-weight="bold">2</text>
<rect x="385.26" y="249.46" width="12.66" height="8.01" fill="#b3d0ec"/>
<text x="391.59" y="255.32" font-size="5.1" text-anchor="middle" fill="#fff" stroke="#fff" stroke-width="0.12" font-weight="bold">2</text>
<rect x="398.82" y="249.46" width="12.66" height="8.01" fill="#deebf7"/>
<text x="405.15" y="255.32" font-size="5.1" text-anchor="middle" fill="#fff" stroke="#fff" stroke-width="0.12" font-weight="bold">0</text>
<rect x="412.38" y="249.46" width="12.66" height="8.01" fill="#deebf7"/>
<text x="418.71" y="255.32" font-size="5.1" text-anchor="middle" fill="#fff" stroke="#fff" stroke-width="0.12" font-weight="bold">0</text>
<rect x="425.94" y="249.46" width="12.66" height="8.01" fill="#deebf7"/>
<text x="432.27" y="255.32" font-size="5.1" text-anchor="middle" fill="#fff" stroke="#fff" stroke-width="0.12" font-weight="bold">0</text>
<rect x="439.50" y="249.46" width="12.66" height="8.01" fill="#73a9dd"/>
<text x="445.83" y="255.32" font-size="5.1" text-anchor="middle" fill="#fff" stroke="#fff" stroke-width="0.12" font-weight="bold">5</text>
<rect x="303.90" y="258.37" width="12.66" height="8.01" fill="#deebf7"/>
<text x="310.23" y="264.23" font-size="5.1" text-anchor="middle" fill="#fff" stroke="#fff" stroke-width="0.12" font-weight="bold">1</text>
<rect x="317.46" y="258.37" width="12.66" height="8.01" fill="#b8d4ee"/>
<text x="323.79" y="264.23" font-size="5.1" text-anchor="middle" fill="#fff" stroke="#fff" stroke-width="0.12" font-weight="bold">2</text>
<rect x="331.02" y="258.37" width="12.66" height="8.01" fill="#deebf7"/>
<text x="337.35" y="264.23" font-size="5.1" text-anchor="middle" fill="#fff" stroke="#fff" stroke-width="0.12" font-weight="bold">1</text>
<rect x="344.58" y="258.37" width="12.66" height="8.01" fill="#b8d4ee"/>
<text x="350.91" y="264.23" font-size="5.1" text-anchor="middle" fill="#fff" stroke="#fff" stroke-width="0.12" font-weight="bold">2</text>
<rect x="358.14" y="258.37" width="12.66" height="8.01" fill="#deebf7"/>
<text x="364.47" y="264.23" font-size="5.1" text-anchor="middle" fill="#fff" stroke="#fff" stroke-width="0.12" font-weight="bold">1</text>
<rect x="371.70" y="258.37" width="12.66" height="8.01" fill="#b8d4ee"/>
<text x="378.03" y="264.23" font-size="5.1" text-anchor="middle" fill="#fff" stroke="#fff" stroke-width="0.12" font-weight="bold">2</text>
<rect x="385.26" y="258.37" width="12.66" height="8.01" fill="#deebf7"/>
<text x="391.59" y="264.23" font-size="5.1" text-anchor="middle" fill="#fff" stroke="#fff" stroke-width="0.12" font-weight="bold">1</text>
<rect x="398.82" y="258.37" width="12.66" height="8.01" fill="#deebf7"/>
<text x="405.15" y="264.23" font-size="5.1" text-anchor="middle" fill="#fff" stroke="#fff" stroke-width="0.12" font-weight="bold">1</text>
<rect x="412.38" y="258.37" width="12.66" height="8.01" fill="#93bce4"/>
<text x="418.71" y="264.23" font-size="5.1" text-anchor="middle" fill="#fff" stroke="#fff" stroke-width="0.12" font-weight="bold">3</text>
<rect x="425.94" y="258.37" width="12.66" height="8.01" fill="#b8d4ee"/>
<text x="432.27" y="264.23" font-size="5.1" text-anchor="middle" fill="#fff" stroke="#fff" stroke-width="0.12" font-weight="bold">2</text>
<rect x="439.50" y="258.37" width="12.66" height="8.01" fill="#488ed2"/>
<text x="445.83" y="264.23" font-size="5.1" text-anchor="middle" fill="#fff" stroke="#fff" stroke-width="0.12" font-weight="bold">5</text>
<rect x="303.90" y="267.28" width="12.66" height="8.01" fill="#deebf7"/>
<text x="310.23" y="273.14" font-size="5.1" text-anchor="middle" fill="#fff" stroke="#fff" stroke-width="0.12" font-weight="bold">1</text>
<rect x="317.46" y="267.28" width="12.66" height="8.01" fill="#deebf7"/>
<text x="323.79" y="273.14" font-size="5.1" text-anchor="middle" fill="#fff" stroke="#fff" stroke-width="0.12" font-weight="bold">1</text>
<rect x="331.02" y="267.28" width="12.66" height="8.01" fill="#deebf7"/>
<text x="337.35" y="273.14" font-size="5.1" text-anchor="middle" fill="#fff" stroke="#fff" stroke-width="0.12" font-weight="bold">1</text>
<rect x="344.58" y="267.28" width="12.66" height="8.01" fill="#deebf7"/>
<text x="350.91" y="273.14" font-size="5.1" text-anchor="middle" fill="#fff" stroke="#fff" stroke-width="0.12" font-weight="bold">1</text>
<rect x="358.14" y="267.28" width="12.66" height="8.01" fill="#deebf7"/>
<text x="364.47" y="273.14" font-size="5.1" text-anchor="middle" fill="#fff" stroke="#fff" stroke-width="0.12" font-weight="bold">1</text>
<rect x="371.70" y="267.28" width="12.66" height="8.01" fill="#deebf7"/>
<text x="378.03" y="273.14" font-size="5.1" text-anchor="middle" fill="#fff" stroke="#fff" stroke-width="0.12" font-weight="bold">1</text>
<rect x="385.26" y="267.28" width="12.66" height="8.01" fill="#93bce4"/>
<text x="391.59" y="273.14" font-size="5.1" text-anchor="middle" fill="#fff" stroke="#fff" stroke-width="0.12" font-weight="bold">2</text>
<rect x="398.82" y="267.28" width="12.66" height="8.01" fill="#deebf7"/>
<text x="405.15" y="273.14" font-size="5.1" text-anchor="middle" fill="#fff" stroke="#fff" stroke-width="0.12" font-weight="bold">1</text>
<rect x="412.38" y="267.28" width="12.66" height="8.01" fill="#deebf7"/>
<text x="418.71" y="273.14" font-size="5.1" text-anchor="middle" fill="#fff" stroke="#fff" stroke-width="0.12" font-weight="bold">1</text>
<rect x="425.94" y="267.28" width="12.66" height="8.01" fill="#deebf7"/>
<text x="432.27" y="273.14" font-size="5.1" text-anchor="middle" fill="#fff" stroke="#fff" stroke-width="0.12" font-weight="bold">1</text>
<rect x="439.50" y="267.28" width="12.66" height="8.01" fill="#488ed2"/>
<text x="445.83" y="273.14" font-size="5.1" text-anchor="middle" fill="#fff" stroke="#fff" stroke-width="0.12" font-weight="bold">3</text>
<rect x="303.90" y="276.20" width="12.66" height="8.01" fill="#deebf7"/>
<text x="310.23" y="282.05" font-size="5.1" text-anchor="middle" fill="#fff" stroke="#fff" stroke-width="0.12" font-weight="bold">1</text>
<rect x="317.46" y="276.20" width="12.66" height="8.01" fill="#deebf7"/>
<text x="323.79" y="282.05" font-size="5.1" text-anchor="middle" fill="#fff" stroke="#fff" stroke-width="0.12" font-weight="bold">1</text>
<rect x="331.02" y="276.20" width="12.66" height="8.01" fill="#deebf7"/>
<text x="337.35" y="282.05" font-size="5.1" text-anchor="middle" fill="#fff" stroke="#fff" stroke-width="0.12" font-weight="bold">1</text>
<rect x="344.58" y="276.20" width="12.66" height="8.01" fill="#deebf7"/>
<text x="350.91" y="282.05" font-size="5.1" text-anchor="middle" fill="#fff" stroke="#fff" stroke-width="0.12" font-weight="bold">1</text>
<rect x="358.14" y="276.20" width="12.66" height="8.01" fill="#deebf7"/>
<text x="364.47" y="282.05" font-size="5.1" text-anchor="middle" fill="#fff" stroke="#fff" stroke-width="0.12" font-weight="bold">1</text>
<rect x="371.70" y="276.20" width="12.66" height="8.01" fill="#deebf7"/>
<text x="378.03" y="282.05" font-size="5.1" text-anchor="middle" fill="#fff" stroke="#fff" stroke-width="0.12" font-weight="bold">1</text>
<rect x="385.26" y="276.20" width="12.66" height="8.01" fill="#deebf7"/>
<text x="391.59" y="282.05" font-size="5.1" text-anchor="middle" fill="#fff" stroke="#fff" stroke-width="0.12" font-weight="bold">1</text>
<rect x="398.82" y="276.20" width="12.66" height="8.01" fill="#deebf7"/>
<text x="405.15" y="282.05" font-size="5.1" text-anchor="middle" fill="#fff" stroke="#fff" stroke-width="0.12" font-weight="bold">1</text>
<rect x="412.38" y="276.20" width="12.66" height="8.01" fill="#deebf7"/>
<text x="418.71" y="282.05" font-size="5.1" text-anchor="middle" fill="#fff" stroke="#fff" stroke-width="0.12" font-weight="bold">1</text>
<rect x="425.94" y="276.20" width="12.66" height="8.01" fill="#deebf7"/>
<text x="432.27" y="282.05" font-size="5.1" text-anchor="middle" fill="#fff" stroke="#fff" stroke-width="0.12" font-weight="bold">1</text>
<rect x="439.50" y="276.20" width="12.66" height="8.01" fill="#488ed2"/>
<text x="445.83" y="282.05" font-size="5.1" text-anchor="middle" fill="#fff" stroke="#fff" stroke-width="0.12" font-weight="bold">3</text>
<rect x="303.90" y="285.11" width="12.66" height="8.01" fill="#deebf7"/>
<text x="310.23" y="290.96" font-size="5.1" text-anchor="middle" fill="#fff" stroke="#fff" stroke-width="0.12" font-weight="bold">1</text>
<rect x="317.46" y="285.11" width="12.66" height="8.01" fill="#deebf7"/>
<text x="323.79" y="290.96" font-size="5.1" text-anchor="middle" fill="#fff" stroke="#fff" stroke-width="0.12" font-weight="bold">1</text>
<rect x="331.02" y="285.11" width="12.66" height="8.01" fill="#deebf7"/>
<text x="337.35" y="290.96" font-size="5.1" text-anchor="middle" fill="#fff" stroke="#fff" stroke-width="0.12" font-weight="bold">1</text>
<rect x="344.58" y="285.11" width="12.66" height="8.01" fill="#deebf7"/>
<text x="350.91" y="290.96" font-size="5.1" text-anchor="middle" fill="#fff" stroke="#fff" stroke-width="0.12" font-weight="bold">1</text>
<rect x="358.14" y="285.11" width="12.66" height="8.01" fill="#deebf7"/>
<text x="364.47" y="290.96" font-size="5.1" text-anchor="middle" fill="#fff" stroke="#fff" stroke-width="0.12" font-weight="bold">1</text>
<rect x="371.70" y="285.11" width="12.66" height="8.01" fill="#deebf7"/>
<text x="378.03" y="290.96" font-size="5.1" text-anchor="middle" fill="#fff" stroke="#fff" stroke-width="0.12" font-weight="bold">1</text>
<rect x="385.26" y="285.11" width="12.66" height="8.01" fill="#deebf7"/>
<text x="391.59" y="290.96" font-size="5.1" text-anchor="middle" fill="#fff" stroke="#fff" stroke-width="0.12" font-weight="bold">1</text>
<rect x="398.82" y="285.11" width="12.66" height="8.01" fill="#deebf7"/>
<text x="405.15" y="290.96" font-size="5.1" text-anchor="middle" fill="#fff" stroke="#fff" stroke-width="0.12" font-weight="bold">1</text>
<rect x="412.38" y="285.11" width="12.66" height="8.01" fill="#deebf7"/>
<text x="418.71" y="290.96" font-size="5.1" text-anchor="middle" fill="#fff" stroke="#fff" stroke-width="0.12" font-weight="bold">1</text>
<rect x="425.94" y="285.11" width="12.66" height="8.01" fill="#deebf7"/>
<text x="432.27" y="290.96" font-size="5.1" text-anchor="middle" fill="#fff" stroke="#fff" stroke-width="0.12" font-weight="bold">1</text>
<rect x="439.50" y="285.11" width="12.66" height="8.01" fill="#488ed2"/>
<text x="445.83" y="290.96" font-size="5.1" text-anchor="middle" fill="#fff" stroke="#fff" stroke-width="0.12" font-weight="bold">2</text>
<rect x="303.90" y="294.02" width="12.66" height="8.01" fill="#deebf7"/>
<text x="310.23" y="299.88" font-size="5.1" text-anchor="middle" fill="#fff" stroke="#fff" stroke-width="0.12" font-weight="bold">0</text>
<rect x="317.46" y="294.02" width="12.66" height="8.01" fill="#accceb"/>
<text x="323.79" y="299.88" font-size="5.1" text-anchor="middle" fill="#fff" stroke="#fff" stroke-width="0.12" font-weight="bold">1</text>
<rect x="331.02" y="294.02" width="12.66" height="8.01" fill="#deebf7"/>
<text x="337.35" y="299.88" font-size="5.1" text-anchor="middle" fill="#fff" stroke="#fff" stroke-width="0.12" font-weight="bold">0</text>
<rect x="344.58" y="294.02" width="12.66" height="8.01" fill="#accceb"/>
<text x="350.91" y="299.88" font-size="5.1" text-anchor="middle" fill="#fff" stroke="#fff" stroke-width="0.12" font-weight="bold">1</text>
<rect x="358.14" y="294.02" width="12.66" height="8.01" fill="#deebf7"/>
<text x="364.47" y="299.88" font-size="5.1" text-anchor="middle" fill="#fff" stroke="#fff" stroke-width="0.12" font-weight="bold">0</text>
<rect x="371.70" y="294.02" width="12.66" height="8.01" fill="#deebf7"/>
<text x="378.03" y="299.88" font-size="5.1" text-anchor="middle" fill="#fff" stroke="#fff" stroke-width="0.12" font-weight="bold">0</text>
<rect x="385.26" y="294.02" width="12.66" height="8.01" fill="#deebf7"/>
<text x="391.59" y="299.88" font-size="5.1" text-anchor="middle" fill="#fff" stroke="#fff" stroke-width="0.12" font-weight="bold">0</text>
<rect x="398.82" y="294.02" width="12.66" height="8.01" fill="#deebf7"/>
<text x="405.15" y="299.88" font-size="5.1" text-anchor="middle" fill="#fff" stroke="#fff" stroke-width="0.12" font-weight="bold">0</text>
<rect x="412.38" y="294.02" width="12.66" height="8.01" fill="#accceb"/>
<text x="418.71" y="299.88" font-size="5.1" text-anchor="middle" fill="#fff" stroke="#fff" stroke-width="0.12" font-weight="bold">1</text>
<rect x="425.94" y="294.02" width="12.66" height="8.01" fill="#deebf7"/>
<text x="432.27" y="299.88" font-size="5.1" text-anchor="middle" fill="#fff" stroke="#fff" stroke-width="0.12" font-weight="bold">0</text>
<rect x="439.50" y="294.02" width="12.66" height="8.01" fill="#488ed2"/>
<text x="445.83" y="299.88" font-size="5.1" text-anchor="middle" fill="#fff" stroke="#fff" stroke-width="0.12" font-weight="bold">3</text>
<rect x="303.90" y="302.93" width="12.66" height="8.01" fill="#deebf7"/>
<text x="310.23" y="308.79" font-size="5.1" text-anchor="middle" fill="#fff" stroke="#fff" stroke-width="0.12" font-weight="bold">0</text>
<rect x="317.46" y="302.93" width="12.66" height="8.01" fill="#c9def2"/>
<text x="323.79" y="308.79" font-size="5.1" text-anchor="middle" fill="#fff" stroke="#fff" stroke-width="0.12" font-weight="bold">1</text>
<rect x="331.02" y="302.93" width="12.66" height="8.01" fill="#deebf7"/>
<text x="337.35" y="308.79" font-size="5.1" text-anchor="middle" fill="#fff" stroke="#fff" stroke-width="0.12" font-weight="bold">0</text>
<rect x="344.58" y="302.93" width="12.66" height="8.01" fill="#deebf7"/>
<text x="350.91" y="308.79" font-size="5.1" text-anchor="middle" fill="#fff" stroke="#fff" stroke-width="0.12" font-weight="bold">0</text>
<rect x="358.14" y="302.93" width="12.66" height="8.01" fill="#deebf7"/>
<text x="364.47" y="308.79" font-size="5.1" text-anchor="middle" fill="#fff" stroke="#fff" stroke-width="0.12" font-weight="bold">0</text>
<rect x="371.70" y="302.93" width="12.66" height="8.01" fill="#c9def2"/>
<text x="378.03" y="308.79" font-size="5.1" text-anchor="middle" fill="#fff" stroke="#fff" stroke-width="0.12" font-weight="bold">1</text>
<rect x="385.26" y="302.93" width="12.66" height="8.01" fill="#deebf7"/>
<text x="391.59" y="308.79" font-size="5.1" text-anchor="middle" fill="#fff" stroke="#fff" stroke-width="0.12" font-weight="bold">0</text>
<rect x="398.82" y="302.93" width="12.66" height="8.01" fill="#deebf7"/>
<text x="405.15" y="308.79" font-size="5.1" text-anchor="middle" fill="#fff" stroke="#fff" stroke-width="0.12" font-weight="bold">0</text>
<rect x="412.38" y="302.93" width="12.66" height="8.01" fill="#deebf7"/>
<text x="418.71" y="308.79" font-size="5.1" text-anchor="middle" fill="#fff" stroke="#fff" stroke-width="0.12" font-weight="bold">0</text>
<rect x="425.94" y="302.93" width="12.66" height="8.01" fill="#deebf7"/>
<text x="432.27" y="308.79" font-size="5.1" text-anchor="middle" fill="#fff" stroke="#fff" stroke-width="0.12" font-weight="bold">0</text>
<rect x="439.50" y="302.93" width="12.66" height="8.01" fill="#488ed2"/>
<text x="445.83" y="308.79" font-size="5.1" text-anchor="middle" fill="#fff" stroke="#fff" stroke-width="0.12" font-weight="bold">7</text>
<rect x="303.90" y="311.84" width="12.66" height="8.01" fill="#d2e3f4"/>
<text x="310.23" y="317.70" font-size="5.1" text-anchor="middle" fill="#fff" stroke="#fff" stroke-width="0.12" font-weight="bold">3</text>
<rect x="317.46" y="311.84" width="12.66" height="8.01" fill="#93bce4"/>
<text x="323.79" y="317.70" font-size="5.1" text-anchor="middle" fill="#fff" stroke="#fff" stroke-width="0.12" font-weight="bold">8</text>
<rect x="331.02" y="311.84" width="12.66" height="8.01" fill="#d2e3f4"/>
<text x="337.35" y="317.70" font-size="5.1" text-anchor="middle" fill="#fff" stroke="#fff" stroke-width="0.12" font-weight="bold">3</text>
<rect x="344.58" y="311.84" width="12.66" height="8.01" fill="#accceb"/>
<text x="350.91" y="317.70" font-size="5.1" text-anchor="middle" fill="#fff" stroke="#fff" stroke-width="0.12" font-weight="bold">6</text>
<rect x="358.14" y="311.84" width="12.66" height="8.01" fill="#93bce4"/>
<text x="364.47" y="317.70" font-size="5.1" text-anchor="middle" fill="#fff" stroke="#fff" stroke-width="0.12" font-weight="bold">8</text>
<rect x="371.70" y="311.84" width="12.66" height="8.01" fill="#93bce4"/>
<text x="378.03" y="317.70" font-size="5.1" text-anchor="middle" fill="#fff" stroke="#fff" stroke-width="0.12" font-weight="bold">8</text>
<rect x="385.26" y="311.84" width="12.66" height="8.01" fill="#a0c4e8"/>
<text x="391.59" y="317.70" font-size="5.1" text-anchor="middle" fill="#fff" stroke="#fff" stroke-width="0.12" font-weight="bold">7</text>
<rect x="398.82" y="311.84" width="12.66" height="8.01" fill="#deebf7"/>
<text x="405.15" y="317.70" font-size="5.1" text-anchor="middle" fill="#fff" stroke="#fff" stroke-width="0.12" font-weight="bold">2</text>
<rect x="412.38" y="311.84" width="12.66" height="8.01" fill="#93bce4"/>
<text x="418.71" y="317.70" font-size="5.1" text-anchor="middle" fill="#fff" stroke="#fff" stroke-width="0.12" font-weight="bold">8</text>
<rect x="425.94" y="311.84" width="12.66" height="8.01" fill="#5496d5"/>
<text x="432.27" y="317.70" font-size="5.1" text-anchor="middle" fill="#fff" stroke="#fff" stroke-width="0.12" font-weight="bold">13</text>
<rect x="439.50" y="311.84" width="12.66" height="8.01" fill="#488ed2"/>
<text x="445.83" y="317.70" font-size="5.1" text-anchor="middle" fill="#fff" stroke="#fff" stroke-width="0.12" font-weight="bold">14</text>
<rect x="303.90" y="320.76" width="12.66" height="8.01" fill="#deebf7"/>
<text x="310.23" y="326.61" font-size="5.1" text-anchor="middle" fill="#fff" stroke="#fff" stroke-width="0.12" font-weight="bold">1</text>
<rect x="317.46" y="320.76" width="12.66" height="8.01" fill="#488ed2"/>
<text x="323.79" y="326.61" font-size="5.1" text-anchor="middle" fill="#fff" stroke="#fff" stroke-width="0.12" font-weight="bold">2</text>
<rect x="331.02" y="320.76" width="12.66" height="8.01" fill="#deebf7"/>
<text x="337.35" y="326.61" font-size="5.1" text-anchor="middle" fill="#fff" stroke="#fff" stroke-width="0.12" font-weight="bold">1</text>
<rect x="344.58" y="320.76" width="12.66" height="8.01" fill="#488ed2"/>
<text x="350.91" y="326.61" font-size="5.1" text-anchor="middle" fill="#fff" stroke="#fff" stroke-width="0.12" font-weight="bold">2</text>
<rect x="358.14" y="320.76" width="12.66" height="8.01" fill="#deebf7"/>
<text x="364.47" y="326.61" font-size="5.1" text-anchor="middle" fill="#fff" stroke="#fff" stroke-width="0.12" font-weight="bold">1</text>
<rect x="371.70" y="320.76" width="12.66" height="8.01" fill="#deebf7"/>
<text x="378.03" y="326.61" font-size="5.1" text-anchor="middle" fill="#fff" stroke="#fff" stroke-width="0.12" font-weight="bold">1</text>
<rect x="385.26" y="320.76" width="12.66" height="8.01" fill="#deebf7"/>
<text x="391.59" y="326.61" font-size="5.1" text-anchor="middle" fill="#fff" stroke="#fff" stroke-width="0.12" font-weight="bold">1</text>
<rect x="398.82" y="320.76" width="12.66" height="8.01" fill="#488ed2"/>
<text x="405.15" y="326.61" font-size="5.1" text-anchor="middle" fill="#fff" stroke="#fff" stroke-width="0.12" font-weight="bold">2</text>
<rect x="412.38" y="320.76" width="12.66" height="8.01" fill="#deebf7"/>
<text x="418.71" y="326.61" font-size="5.1" text-anchor="middle" fill="#fff" stroke="#fff" stroke-width="0.12" font-weight="bold">1</text>
<rect x="425.94" y="320.76" width="12.66" height="8.01" fill="#deebf7"/>
<text x="432.27" y="326.61" font-size="5.1" text-anchor="middle" fill="#fff" stroke="#fff" stroke-width="0.12" font-weight="bold">1</text>
<rect x="439.50" y="320.76" width="12.66" height="8.01" fill="#488ed2"/>
<text x="445.83" y="326.61" font-size="5.1" text-anchor="middle" fill="#fff" stroke="#fff" stroke-width="0.12" font-weight="bold">2</text>
<rect x="303.90" y="329.67" width="12.66" height="8.01" fill="#deebf7"/>
<text x="310.23" y="335.52" font-size="5.1" text-anchor="middle" fill="#fff" stroke="#fff" stroke-width="0.12" font-weight="bold">2</text>
<rect x="317.46" y="329.67" width="12.66" height="8.01" fill="#b8d4ee"/>
<text x="323.79" y="335.52" font-size="5.1" text-anchor="middle" fill="#fff" stroke="#fff" stroke-width="0.12" font-weight="bold">3</text>
<rect x="331.02" y="329.67" width="12.66" height="8.01" fill="#deebf7"/>
<text x="337.35" y="335.52" font-size="5.1" text-anchor="middle" fill="#fff" stroke="#fff" stroke-width="0.12" font-weight="bold">2</text>
<rect x="344.58" y="329.67" width="12.66" height="8.01" fill="#deebf7"/>
<text x="350.91" y="335.52" font-size="5.1" text-anchor="middle" fill="#fff" stroke="#fff" stroke-width="0.12" font-weight="bold">2</text>
<rect x="358.14" y="329.67" width="12.66" height="8.01" fill="#b8d4ee"/>
<text x="364.47" y="335.52" font-size="5.1" text-anchor="middle" fill="#fff" stroke="#fff" stroke-width="0.12" font-weight="bold">3</text>
<rect x="371.70" y="329.67" width="12.66" height="8.01" fill="#deebf7"/>
<text x="378.03" y="335.52" font-size="5.1" text-anchor="middle" fill="#fff" stroke="#fff" stroke-width="0.12" font-weight="bold">2</text>
<rect x="385.26" y="329.67" width="12.66" height="8.01" fill="#deebf7"/>
<text x="391.59" y="335.52" font-size="5.1" text-anchor="middle" fill="#fff" stroke="#fff" stroke-width="0.12" font-weight="bold">2</text>
<rect x="398.82" y="329.67" width="12.66" height="8.01" fill="#deebf7"/>
<text x="405.15" y="335.52" font-size="5.1" text-anchor="middle" fill="#fff" stroke="#fff" stroke-width="0.12" font-weight="bold">2</text>
<rect x="412.38" y="329.67" width="12.66" height="8.01" fill="#b8d4ee"/>
<text x="418.71" y="335.52" font-size="5.1" text-anchor="middle" fill="#fff" stroke="#fff" stroke-width="0.12" font-weight="bold">3</text>
<rect x="425.94" y="329.67" width="12.66" height="8.01" fill="#b8d4ee"/>
<text x="432.27" y="335.52" font-size="5.1" text-anchor="middle" fill="#fff" stroke="#fff" stroke-width="0.12" font-weight="bold">3</text>
<rect x="439.50" y="329.67" width="12.66" height="8.01" fill="#488ed2"/>
<text x="445.83" y="335.52" font-size="5.1" text-anchor="middle" fill="#fff" stroke="#fff" stroke-width="0.12" font-weight="bold">6</text>
<rect x="303.90" y="338.58" width="12.66" height="8.01" fill="#93bce4"/>
<text x="310.23" y="344.44" font-size="5.1" text-anchor="middle" fill="#fff" stroke="#fff" stroke-width="0.12" font-weight="bold">2</text>
<rect x="317.46" y="338.58" width="12.66" height="8.01" fill="#488ed2"/>
<text x="323.79" y="344.44" font-size="5.1" text-anchor="middle" fill="#fff" stroke="#fff" stroke-width="0.12" font-weight="bold">3</text>
<rect x="331.02" y="338.58" width="12.66" height="8.01" fill="#93bce4"/>
<text x="337.35" y="344.44" font-size="5.1" text-anchor="middle" fill="#fff" stroke="#fff" stroke-width="0.12" font-weight="bold">2</text>
<rect x="344.58" y="338.58" width="12.66" height="8.01" fill="#488ed2"/>
<text x="350.91" y="344.44" font-size="5.1" text-anchor="middle" fill="#fff" stroke="#fff" stroke-width="0.12" font-weight="bold">3</text>
<rect x="358.14" y="338.58" width="12.66" height="8.01" fill="#deebf7"/>
<text x="364.47" y="344.44" font-size="5.1" text-anchor="middle" fill="#fff" stroke="#fff" stroke-width="0.12" font-weight="bold">1</text>
<rect x="371.70" y="338.58" width="12.66" height="8.01" fill="#488ed2"/>
<text x="378.03" y="344.44" font-size="5.1" text-anchor="middle" fill="#fff" stroke="#fff" stroke-width="0.12" font-weight="bold">3</text>
<rect x="385.26" y="338.58" width="12.66" height="8.01" fill="#93bce4"/>
<text x="391.59" y="344.44" font-size="5.1" text-anchor="middle" fill="#fff" stroke="#fff" stroke-width="0.12" font-weight="bold">2</text>
<rect x="398.82" y="338.58" width="12.66" height="8.01" fill="#93bce4"/>
<text x="405.15" y="344.44" font-size="5.1" text-anchor="middle" fill="#fff" stroke="#fff" stroke-width="0.12" font-weight="bold">2</text>
<rect x="412.38" y="338.58" width="12.66" height="8.01" fill="#deebf7"/>
<text x="418.71" y="344.44" font-size="5.1" text-anchor="middle" fill="#fff" stroke="#fff" stroke-width="0.12" font-weight="bold">1</text>
<rect x="425.94" y="338.58" width="12.66" height="8.01" fill="#93bce4"/>
<text x="432.27" y="344.44" font-size="5.1" text-anchor="middle" fill="#fff" stroke="#fff" stroke-width="0.12" font-weight="bold">2</text>
<rect x="439.50" y="338.58" width="12.66" height="8.01" fill="#488ed2"/>
<text x="445.83" y="344.44" font-size="5.1" text-anchor="middle" fill="#fff" stroke="#fff" stroke-width="0.12" font-weight="bold">3</text>
<rect x="303.90" y="347.49" width="12.66" height="8.01" fill="#c5dcf1"/>
<text x="310.23" y="353.35" font-size="5.1" text-anchor="middle" fill="#fff" stroke="#fff" stroke-width="0.12" font-weight="bold">1</text>
<rect x="317.46" y="347.49" width="12.66" height="8.01" fill="#c5dcf1"/>
<text x="323.79" y="353.35" font-size="5.1" text-anchor="middle" fill="#fff" stroke="#fff" stroke-width="0.12" font-weight="bold">1</text>
<rect x="331.02" y="347.49" width="12.66" height="8.01" fill="#deebf7"/>
<text x="337.35" y="353.35" font-size="5.1" text-anchor="middle" fill="#fff" stroke="#fff" stroke-width="0.12" font-weight="bold">0</text>
<rect x="344.58" y="347.49" width="12.66" height="8.01" fill="#accceb"/>
<text x="350.91" y="353.35" font-size="5.1" text-anchor="middle" fill="#fff" stroke="#fff" stroke-width="0.12" font-weight="bold">2</text>
<rect x="358.14" y="347.49" width="12.66" height="8.01" fill="#deebf7"/>
<text x="364.47" y="353.35" font-size="5.1" text-anchor="middle" fill="#fff" stroke="#fff" stroke-width="0.12" font-weight="bold">0</text>
<rect x="371.70" y="347.49" width="12.66" height="8.01" fill="#accceb"/>
<text x="378.03" y="353.35" font-size="5.1" text-anchor="middle" fill="#fff" stroke="#fff" stroke-width="0.12" font-weight="bold">2</text>
<rect x="385.26" y="347.49" width="12.66" height="8.01" fill="#c5dcf1"/>
<text x="391.59" y="353.35" font-size="5.1" text-anchor="middle" fill="#fff" stroke="#fff" stroke-width="0.12" font-weight="bold">1</text>
<rect x="398.82" y="347.49" width="12.66" height="8.01" fill="#c5dcf1"/>
<text x="405.15" y="353.35" font-size="5.1" text-anchor="middle" fill="#fff" stroke="#fff" stroke-width="0.12" font-weight="bold">1</text>
<rect x="412.38" y="347.49" width="12.66" height="8.01" fill="#accceb"/>
<text x="418.71" y="353.35" font-size="5.1" text-anchor="middle" fill="#fff" stroke="#fff" stroke-width="0.12" font-weight="bold">2</text>
<rect x="425.94" y="347.49" width="12.66" height="8.01" fill="#deebf7"/>
<text x="432.27" y="353.35" font-size="5.1" text-anchor="middle" fill="#fff" stroke="#fff" stroke-width="0.12" font-weight="bold">0</text>
<rect x="439.50" y="347.49" width="12.66" height="8.01" fill="#488ed2"/>
<text x="445.83" y="353.35" font-size="5.1" text-anchor="middle" fill="#fff" stroke="#fff" stroke-width="0.12" font-weight="bold">6</text>
<rect x="303.90" y="356.40" width="12.66" height="8.01" fill="#deebf7"/>
<text x="310.23" y="362.26" font-size="5.1" text-anchor="middle" fill="#fff" stroke="#fff" stroke-width="0.12" font-weight="bold">1</text>
<rect x="317.46" y="356.40" width="12.66" height="8.01" fill="#deebf7"/>
<text x="323.79" y="362.26" font-size="5.1" text-anchor="middle" fill="#fff" stroke="#fff" stroke-width="0.12" font-weight="bold">1</text>
<rect x="331.02" y="356.40" width="12.66" height="8.01" fill="#deebf7"/>
<text x="337.35" y="362.26" font-size="5.1" text-anchor="middle" fill="#fff" stroke="#fff" stroke-width="0.12" font-weight="bold">1</text>
<rect x="344.58" y="356.40" width="12.66" height="8.01" fill="#deebf7"/>
<text x="350.91" y="362.26" font-size="5.1" text-anchor="middle" fill="#fff" stroke="#fff" stroke-width="0.12" font-weight="bold">1</text>
<rect x="358.14" y="356.40" width="12.66" height="8.01" fill="#deebf7"/>
<text x="364.47" y="362.26" font-size="5.1" text-anchor="middle" fill="#fff" stroke="#fff" stroke-width="0.12" font-weight="bold">1</text>
<rect x="371.70" y="356.40" width="12.66" height="8.01" fill="#deebf7"/>
<text x="378.03" y="362.26" font-size="5.1" text-anchor="middle" fill="#fff" stroke="#fff" stroke-width="0.12" font-weight="bold">1</text>
<rect x="385.26" y="356.40" width="12.66" height="8.01" fill="#deebf7"/>
<text x="391.59" y="362.26" font-size="5.1" text-anchor="middle" fill="#fff" stroke="#fff" stroke-width="0.12" font-weight="bold">1</text>
<rect x="398.82" y="356.40" width="12.66" height="8.01" fill="#deebf7"/>
<text x="405.15" y="362.26" font-size="5.1" text-anchor="middle" fill="#fff" stroke="#fff" stroke-width="0.12" font-weight="bold">1</text>
<rect x="412.38" y="356.40" width="12.66" height="8.01" fill="#deebf7"/>
<text x="418.71" y="362.26" font-size="5.1" text-anchor="middle" fill="#fff" stroke="#fff" stroke-width="0.12" font-weight="bold">1</text>
<rect x="425.94" y="356.40" width="12.66" height="8.01" fill="#deebf7"/>
<text x="432.27" y="362.26" font-size="5.1" text-anchor="middle" fill="#fff" stroke="#fff" stroke-width="0.12" font-weight="bold">1</text>
<rect x="439.50" y="356.40" width="12.66" height="8.01" fill="#488ed2"/>
<text x="445.83" y="362.26" font-size="5.1" text-anchor="middle" fill="#fff" stroke="#fff" stroke-width="0.12" font-weight="bold">4</text>
<rect x="303.90" y="365.32" width="12.66" height="8.01" fill="#deebf7"/>
<text x="310.23" y="371.17" font-size="5.1" text-anchor="middle" fill="#fff" stroke="#fff" stroke-width="0.12" font-weight="bold">0</text>
<rect x="317.46" y="365.32" width="12.66" height="8.01" fill="#b8d4ee"/>
<text x="323.79" y="371.17" font-size="5.1" text-anchor="middle" fill="#fff" stroke="#fff" stroke-width="0.12" font-weight="bold">1</text>
<rect x="331.02" y="365.32" width="12.66" height="8.01" fill="#deebf7"/>
<text x="337.35" y="371.17" font-size="5.1" text-anchor="middle" fill="#fff" stroke="#fff" stroke-width="0.12" font-weight="bold">0</text>
<rect x="344.58" y="365.32" width="12.66" height="8.01" fill="#93bce4"/>
<text x="350.91" y="371.17" font-size="5.1" text-anchor="middle" fill="#fff" stroke="#fff" stroke-width="0.12" font-weight="bold">2</text>
<rect x="358.14" y="365.32" width="12.66" height="8.01" fill="#deebf7"/>
<text x="364.47" y="371.17" font-size="5.1" text-anchor="middle" fill="#fff" stroke="#fff" stroke-width="0.12" font-weight="bold">0</text>
<rect x="371.70" y="365.32" width="12.66" height="8.01" fill="#6ea5db"/>
<text x="378.03" y="371.17" font-size="5.1" text-anchor="middle" fill="#fff" stroke="#fff" stroke-width="0.12" font-weight="bold">3</text>
<rect x="385.26" y="365.32" width="12.66" height="8.01" fill="#b8d4ee"/>
<text x="391.59" y="371.17" font-size="5.1" text-anchor="middle" fill="#fff" stroke="#fff" stroke-width="0.12" font-weight="bold">1</text>
<rect x="398.82" y="365.32" width="12.66" height="8.01" fill="#deebf7"/>
<text x="405.15" y="371.17" font-size="5.1" text-anchor="middle" fill="#fff" stroke="#fff" stroke-width="0.12" font-weight="bold">0</text>
<rect x="412.38" y="365.32" width="12.66" height="8.01" fill="#b8d4ee"/>
<text x="418.71" y="371.17" font-size="5.1" text-anchor="middle" fill="#fff" stroke="#fff" stroke-width="0.12" font-weight="bold">1</text>
<rect x="425.94" y="365.32" width="12.66" height="8.01" fill="#deebf7"/>
<text x="432.27" y="371.17" font-size="5.1" text-anchor="middle" fill="#fff" stroke="#fff" stroke-width="0.12" font-weight="bold">0</text>
<rect x="439.50" y="365.32" width="12.66" height="8.01" fill="#488ed2"/>
<text x="445.83" y="371.17" font-size="5.1" text-anchor="middle" fill="#fff" stroke="#fff" stroke-width="0.12" font-weight="bold">4</text>
<rect x="303.90" y="374.23" width="12.66" height="8.01" fill="#cfe2f3"/>
<text x="310.23" y="380.08" font-size="5.1" text-anchor="middle" fill="#fff" stroke="#fff" stroke-width="0.12" font-weight="bold">1</text>
<rect x="317.46" y="374.23" width="12.66" height="8.01" fill="#cfe2f3"/>
<text x="323.79" y="380.08" font-size="5.1" text-anchor="middle" fill="#fff" stroke="#fff" stroke-width="0.12" font-weight="bold">1</text>
<rect x="331.02" y="374.23" width="12.66" height="8.01" fill="#deebf7"/>
<text x="337.35" y="380.08" font-size="5.1" text-anchor="middle" fill="#fff" stroke="#fff" stroke-width="0.12" font-weight="bold">0</text>
<rect x="344.58" y="374.23" width="12.66" height="8.01" fill="#93bce4"/>
<text x="350.91" y="380.08" font-size="5.1" text-anchor="middle" fill="#fff" stroke="#fff" stroke-width="0.12" font-weight="bold">5</text>
<rect x="358.14" y="374.23" width="12.66" height="8.01" fill="#deebf7"/>
<text x="364.47" y="380.08" font-size="5.1" text-anchor="middle" fill="#fff" stroke="#fff" stroke-width="0.12" font-weight="bold">0</text>
<rect x="371.70" y="374.23" width="12.66" height="8.01" fill="#a2c6e8"/>
<text x="378.03" y="380.08" font-size="5.1" text-anchor="middle" fill="#fff" stroke="#fff" stroke-width="0.12" font-weight="bold">4</text>
<rect x="385.26" y="374.23" width="12.66" height="8.01" fill="#b1cfec"/>
<text x="391.59" y="380.08" font-size="5.1" text-anchor="middle" fill="#fff" stroke="#fff" stroke-width="0.12" font-weight="bold">3</text>
<rect x="398.82" y="374.23" width="12.66" height="8.01" fill="#b1cfec"/>
<text x="405.15" y="380.08" font-size="5.1" text-anchor="middle" fill="#fff" stroke="#fff" stroke-width="0.12" font-weight="bold">3</text>
<rect x="412.38" y="374.23" width="12.66" height="8.01" fill="#c0d8f0"/>
<text x="418.71" y="380.08" font-size="5.1" text-anchor="middle" fill="#fff" stroke="#fff" stroke-width="0.12" font-weight="bold">2</text>
<rect x="425.94" y="374.23" width="12.66" height="8.01" fill="#deebf7"/>
<text x="432.27" y="380.08" font-size="5.1" text-anchor="middle" fill="#fff" stroke="#fff" stroke-width="0.12" font-weight="bold">0</text>
<rect x="439.50" y="374.23" width="12.66" height="8.01" fill="#488ed2"/>
<text x="445.83" y="380.08" font-size="5.1" text-anchor="middle" fill="#fff" stroke="#fff" stroke-width="0.12" font-weight="bold">10</text>
<rect x="303.90" y="383.14" width="12.66" height="8.01" fill="#cfe2f3"/>
<text x="310.23" y="389.00" font-size="5.1" text-anchor="middle" fill="#fff" stroke="#fff" stroke-width="0.12" font-weight="bold">1</text>
<rect x="317.46" y="383.14" width="12.66" height="8.01" fill="#cfe2f3"/>
<text x="323.79" y="389.00" font-size="5.1" text-anchor="middle" fill="#fff" stroke="#fff" stroke-width="0.12" font-weight="bold">1</text>
<rect x="331.02" y="383.14" width="12.66" height="8.01" fill="#deebf7"/>
<text x="337.35" y="389.00" font-size="5.1" text-anchor="middle" fill="#fff" stroke="#fff" stroke-width="0.12" font-weight="bold">0</text>
<rect x="344.58" y="383.14" width="12.66" height="8.01" fill="#75aadd"/>
<text x="350.91" y="389.00" font-size="5.1" text-anchor="middle" fill="#fff" stroke="#fff" stroke-width="0.12" font-weight="bold">7</text>
<rect x="358.14" y="383.14" width="12.66" height="8.01" fill="#deebf7"/>
<text x="364.47" y="389.00" font-size="5.1" text-anchor="middle" fill="#fff" stroke="#fff" stroke-width="0.12" font-weight="bold">0</text>
<rect x="371.70" y="383.14" width="12.66" height="8.01" fill="#b1cfec"/>
<text x="378.03" y="389.00" font-size="5.1" text-anchor="middle" fill="#fff" stroke="#fff" stroke-width="0.12" font-weight="bold">3</text>
<rect x="385.26" y="383.14" width="12.66" height="8.01" fill="#cfe2f3"/>
<text x="391.59" y="389.00" font-size="5.1" text-anchor="middle" fill="#fff" stroke="#fff" stroke-width="0.12" font-weight="bold">1</text>
<rect x="398.82" y="383.14" width="12.66" height="8.01" fill="#deebf7"/>
<text x="405.15" y="389.00" font-size="5.1" text-anchor="middle" fill="#fff" stroke="#fff" stroke-width="0.12" font-weight="bold">0</text>
<rect x="412.38" y="383.14" width="12.66" height="8.01" fill="#cfe2f3"/>
<text x="418.71" y="389.00" font-size="5.1" text-anchor="middle" fill="#fff" stroke="#fff" stroke-width="0.12" font-weight="bold">1</text>
<rect x="425.94" y="383.14" width="12.66" height="8.01" fill="#deebf7"/>
<text x="432.27" y="389.00" font-size="5.1" text-anchor="middle" fill="#fff" stroke="#fff" stroke-width="0.12" font-weight="bold">0</text>
<rect x="439.50" y="383.14" width="12.66" height="8.01" fill="#488ed2"/>
<text x="445.83" y="389.00" font-size="5.1" text-anchor="middle" fill="#fff" stroke="#fff" stroke-width="0.12" font-weight="bold">10</text>
<rect x="303.90" y="392.05" width="12.66" height="8.01" fill="#c0d8f0"/>
<text x="310.23" y="397.91" font-size="5.1" text-anchor="middle" fill="#fff" stroke="#fff" stroke-width="0.12" font-weight="bold">1</text>
<rect x="317.46" y="392.05" width="12.66" height="8.01" fill="#c0d8f0"/>
<text x="323.79" y="397.91" font-size="5.1" text-anchor="middle" fill="#fff" stroke="#fff" stroke-width="0.12" font-weight="bold">1</text>
<rect x="331.02" y="392.05" width="12.66" height="8.01" fill="#deebf7"/>
<text x="337.35" y="397.91" font-size="5.1" text-anchor="middle" fill="#fff" stroke="#fff" stroke-width="0.12" font-weight="bold">0</text>
<rect x="344.58" y="392.05" width="12.66" height="8.01" fill="#84b3e1"/>
<text x="350.91" y="397.91" font-size="5.1" text-anchor="middle" fill="#fff" stroke="#fff" stroke-width="0.12" font-weight="bold">3</text>
<rect x="358.14" y="392.05" width="12.66" height="8.01" fill="#deebf7"/>
<text x="364.47" y="397.91" font-size="5.1" text-anchor="middle" fill="#fff" stroke="#fff" stroke-width="0.12" font-weight="bold">0</text>
<rect x="371.70" y="392.05" width="12.66" height="8.01" fill="#a2c6e8"/>
<text x="378.03" y="397.91" font-size="5.1" text-anchor="middle" fill="#fff" stroke="#fff" stroke-width="0.12" font-weight="bold">2</text>
<rect x="385.26" y="392.05" width="12.66" height="8.01" fill="#c0d8f0"/>
<text x="391.59" y="397.91" font-size="5.1" text-anchor="middle" fill="#fff" stroke="#fff" stroke-width="0.12" font-weight="bold">1</text>
<rect x="398.82" y="392.05" width="12.66" height="8.01" fill="#deebf7"/>
<text x="405.15" y="397.91" font-size="5.1" text-anchor="middle" fill="#fff" stroke="#fff" stroke-width="0.12" font-weight="bold">0</text>
<rect x="412.38" y="392.05" width="12.66" height="8.01" fill="#c0d8f0"/>
<text x="418.71" y="397.91" font-size="5.1" text-anchor="middle" fill="#fff" stroke="#fff" stroke-width="0.12" font-weight="bold">1</text>
<rect x="425.94" y="392.05" width="12.66" height="8.01" fill="#deebf7"/>
<text x="432.27" y="397.91" font-size="5.1" text-anchor="middle" fill="#fff" stroke="#fff" stroke-width="0.12" font-weight="bold">0</text>
<rect x="439.50" y="392.05" width="12.66" height="8.01" fill="#488ed2"/>
<text x="445.83" y="397.91" font-size="5.1" text-anchor="middle" fill="#fff" stroke="#fff" stroke-width="0.12" font-weight="bold">5</text>
<rect x="303.90" y="400.96" width="12.66" height="8.01" fill="#deebf7"/>
<text x="310.23" y="406.82" font-size="5.1" text-anchor="middle" fill="#fff" stroke="#fff" stroke-width="0.12" font-weight="bold">0</text>
<rect x="317.46" y="400.96" width="12.66" height="8.01" fill="#dbe9f6"/>
<text x="323.79" y="406.82" font-size="5.1" text-anchor="middle" fill="#fff" stroke="#fff" stroke-width="0.12" font-weight="bold">1</text>
<rect x="331.02" y="400.96" width="12.66" height="8.01" fill="#deebf7"/>
<text x="337.35" y="406.82" font-size="5.1" text-anchor="middle" fill="#fff" stroke="#fff" stroke-width="0.12" font-weight="bold">0</text>
<rect x="344.58" y="400.96" width="12.66" height="8.01" fill="#deebf7"/>
<text x="350.91" y="406.82" font-size="5.1" text-anchor="middle" fill="#fff" stroke="#fff" stroke-width="0.12" font-weight="bold">0</text>
<rect x="358.14" y="400.96" width="12.66" height="8.01" fill="#deebf7"/>
<text x="364.47" y="406.82" font-size="5.1" text-anchor="middle" fill="#fff" stroke="#fff" stroke-width="0.12" font-weight="bold">0</text>
<rect x="371.70" y="400.96" width="12.66" height="8.01" fill="#488ed2"/>
<text x="378.03" y="406.82" font-size="5.1" text-anchor="middle" fill="#fff" stroke="#fff" stroke-width="0.12" font-weight="bold">43</text>
<rect x="385.26" y="400.96" width="12.66" height="8.01" fill="#deebf7"/>
<text x="391.59" y="406.82" font-size="5.1" text-anchor="middle" fill="#fff" stroke="#fff" stroke-width="0.12" font-weight="bold">0</text>
<rect x="398.82" y="400.96" width="12.66" height="8.01" fill="#d0e2f4"/>
<text x="405.15" y="406.82" font-size="5.1" text-anchor="middle" fill="#fff" stroke="#fff" stroke-width="0.12" font-weight="bold">4</text>
<rect x="412.38" y="400.96" width="12.66" height="8.01" fill="#dbe9f6"/>
<text x="418.71" y="406.82" font-size="5.1" text-anchor="middle" fill="#fff" stroke="#fff" stroke-width="0.12" font-weight="bold">1</text>
<rect x="425.94" y="400.96" width="12.66" height="8.01" fill="#deebf7"/>
<text x="432.27" y="406.82" font-size="5.1" text-anchor="middle" fill="#fff" stroke="#fff" stroke-width="0.12" font-weight="bold">0</text>
<rect x="439.50" y="400.96" width="12.66" height="8.01" fill="#c9def2"/>
<text x="445.83" y="406.82" font-size="5.1" text-anchor="middle" fill="#fff" stroke="#fff" stroke-width="0.12" font-weight="bold">6</text>
<rect x="303.90" y="409.88" width="12.66" height="8.01" fill="#c9def2"/>
<text x="310.23" y="415.73" font-size="5.1" text-anchor="middle" fill="#fff" stroke="#fff" stroke-width="0.12" font-weight="bold">1</text>
<rect x="317.46" y="409.88" width="12.66" height="8.01" fill="#b3d0ec"/>
<text x="323.79" y="415.73" font-size="5.1" text-anchor="middle" fill="#fff" stroke="#fff" stroke-width="0.12" font-weight="bold">2</text>
<rect x="331.02" y="409.88" width="12.66" height="8.01" fill="#deebf7"/>
<text x="337.35" y="415.73" font-size="5.1" text-anchor="middle" fill="#fff" stroke="#fff" stroke-width="0.12" font-weight="bold">0</text>
<rect x="344.58" y="409.88" width="12.66" height="8.01" fill="#b3d0ec"/>
<text x="350.91" y="415.73" font-size="5.1" text-anchor="middle" fill="#fff" stroke="#fff" stroke-width="0.12" font-weight="bold">2</text>
<rect x="358.14" y="409.88" width="12.66" height="8.01" fill="#deebf7"/>
<text x="364.47" y="415.73" font-size="5.1" text-anchor="middle" fill="#fff" stroke="#fff" stroke-width="0.12" font-weight="bold">0</text>
<rect x="371.70" y="409.88" width="12.66" height="8.01" fill="#88b6e2"/>
<text x="378.03" y="415.73" font-size="5.1" text-anchor="middle" fill="#fff" stroke="#fff" stroke-width="0.12" font-weight="bold">4</text>
<rect x="385.26" y="409.88" width="12.66" height="8.01" fill="#c9def2"/>
<text x="391.59" y="415.73" font-size="5.1" text-anchor="middle" fill="#fff" stroke="#fff" stroke-width="0.12" font-weight="bold">1</text>
<rect x="398.82" y="409.88" width="12.66" height="8.01" fill="#deebf7"/>
<text x="405.15" y="415.73" font-size="5.1" text-anchor="middle" fill="#fff" stroke="#fff" stroke-width="0.12" font-weight="bold">0</text>
<rect x="412.38" y="409.88" width="12.66" height="8.01" fill="#b3d0ec"/>
<text x="418.71" y="415.73" font-size="5.1" text-anchor="middle" fill="#fff" stroke="#fff" stroke-width="0.12" font-weight="bold">2</text>
<rect x="425.94" y="409.88" width="12.66" height="8.01" fill="#deebf7"/>
<text x="432.27" y="415.73" font-size="5.1" text-anchor="middle" fill="#fff" stroke="#fff" stroke-width="0.12" font-weight="bold">0</text>
<rect x="439.50" y="409.88" width="12.66" height="8.01" fill="#488ed2"/>
<text x="445.83" y="415.73" font-size="5.1" text-anchor="middle" fill="#fff" stroke="#fff" stroke-width="0.12" font-weight="bold">7</text>
<rect x="303.90" y="418.79" width="12.66" height="8.01" fill="#deebf7"/>
<text x="310.23" y="424.64" font-size="5.1" text-anchor="middle" fill="#fff" stroke="#fff" stroke-width="0.12" font-weight="bold">0</text>
<rect x="317.46" y="418.79" width="12.66" height="8.01" fill="#cfe2f3"/>
<text x="323.79" y="424.64" font-size="5.1" text-anchor="middle" fill="#fff" stroke="#fff" stroke-width="0.12" font-weight="bold">1</text>
<rect x="331.02" y="418.79" width="12.66" height="8.01" fill="#deebf7"/>
<text x="337.35" y="424.64" font-size="5.1" text-anchor="middle" fill="#fff" stroke="#fff" stroke-width="0.12" font-weight="bold">0</text>
<rect x="344.58" y="418.79" width="12.66" height="8.01" fill="#cfe2f3"/>
<text x="350.91" y="424.64" font-size="5.1" text-anchor="middle" fill="#fff" stroke="#fff" stroke-width="0.12" font-weight="bold">1</text>
<rect x="358.14" y="418.79" width="12.66" height="8.01" fill="#deebf7"/>
<text x="364.47" y="424.64" font-size="5.1" text-anchor="middle" fill="#fff" stroke="#fff" stroke-width="0.12" font-weight="bold">0</text>
<rect x="371.70" y="418.79" width="12.66" height="8.01" fill="#488ed2"/>
<text x="378.03" y="424.64" font-size="5.1" text-anchor="middle" fill="#fff" stroke="#fff" stroke-width="0.12" font-weight="bold">10</text>
<rect x="385.26" y="418.79" width="12.66" height="8.01" fill="#cfe2f3"/>
<text x="391.59" y="424.64" font-size="5.1" text-anchor="middle" fill="#fff" stroke="#fff" stroke-width="0.12" font-weight="bold">1</text>
<rect x="398.82" y="418.79" width="12.66" height="8.01" fill="#cfe2f3"/>
<text x="405.15" y="424.64" font-size="5.1" text-anchor="middle" fill="#fff" stroke="#fff" stroke-width="0.12" font-weight="bold">1</text>
<rect x="412.38" y="418.79" width="12.66" height="8.01" fill="#c0d8f0"/>
<text x="418.71" y="424.64" font-size="5.1" text-anchor="middle" fill="#fff" stroke="#fff" stroke-width="0.12" font-weight="bold">2</text>
<rect x="425.94" y="418.79" width="12.66" height="8.01" fill="#deebf7"/>
<text x="432.27" y="424.64" font-size="5.1" text-anchor="middle" fill="#fff" stroke="#fff" stroke-width="0.12" font-weight="bold">0</text>
<rect x="439.50" y="418.79" width="12.66" height="8.01" fill="#84b3e1"/>
<text x="445.83" y="424.64" font-size="5.1" text-anchor="middle" fill="#fff" stroke="#fff" stroke-width="0.12" font-weight="bold">6</text>
<rect x="303.90" y="427.70" width="12.66" height="8.01" fill="#c5dcf1"/>
<text x="310.23" y="433.56" font-size="5.1" text-anchor="middle" fill="#fff" stroke="#fff" stroke-width="0.12" font-weight="bold">1</text>
<rect x="317.46" y="427.70" width="12.66" height="8.01" fill="#c5dcf1"/>
<text x="323.79" y="433.56" font-size="5.1" text-anchor="middle" fill="#fff" stroke="#fff" stroke-width="0.12" font-weight="bold">1</text>
<rect x="331.02" y="427.70" width="12.66" height="8.01" fill="#deebf7"/>
<text x="337.35" y="433.56" font-size="5.1" text-anchor="middle" fill="#fff" stroke="#fff" stroke-width="0.12" font-weight="bold">0</text>
<rect x="344.58" y="427.70" width="12.66" height="8.01" fill="#deebf7"/>
<text x="350.91" y="433.56" font-size="5.1" text-anchor="middle" fill="#fff" stroke="#fff" stroke-width="0.12" font-weight="bold">0</text>
<rect x="358.14" y="427.70" width="12.66" height="8.01" fill="#c5dcf1"/>
<text x="364.47" y="433.56" font-size="5.1" text-anchor="middle" fill="#fff" stroke="#fff" stroke-width="0.12" font-weight="bold">1</text>
<rect x="371.70" y="427.70" width="12.66" height="8.01" fill="#7aadde"/>
<text x="378.03" y="433.56" font-size="5.1" text-anchor="middle" fill="#fff" stroke="#fff" stroke-width="0.12" font-weight="bold">4</text>
<rect x="385.26" y="427.70" width="12.66" height="8.01" fill="#c5dcf1"/>
<text x="391.59" y="433.56" font-size="5.1" text-anchor="middle" fill="#fff" stroke="#fff" stroke-width="0.12" font-weight="bold">1</text>
<rect x="398.82" y="427.70" width="12.66" height="8.01" fill="#deebf7"/>
<text x="405.15" y="433.56" font-size="5.1" text-anchor="middle" fill="#fff" stroke="#fff" stroke-width="0.12" font-weight="bold">0</text>
<rect x="412.38" y="427.70" width="12.66" height="8.01" fill="#c5dcf1"/>
<text x="418.71" y="433.56" font-size="5.1" text-anchor="middle" fill="#fff" stroke="#fff" stroke-width="0.12" font-weight="bold">1</text>
<rect x="425.94" y="427.70" width="12.66" height="8.01" fill="#deebf7"/>
<text x="432.27" y="433.56" font-size="5.1" text-anchor="middle" fill="#fff" stroke="#fff" stroke-width="0.12" font-weight="bold">0</text>
<rect x="439.50" y="427.70" width="12.66" height="8.01" fill="#488ed2"/>
<text x="445.83" y="433.56" font-size="5.1" text-anchor="middle" fill="#fff" stroke="#fff" stroke-width="0.12" font-weight="bold">6</text>
<rect x="303.90" y="436.61" width="12.66" height="8.01" fill="#deebf7"/>
<text x="310.23" y="442.47" font-size="5.1" text-anchor="middle" fill="#fff" stroke="#fff" stroke-width="0.12" font-weight="bold">0</text>
<rect x="317.46" y="436.61" width="12.66" height="8.01" fill="#accceb"/>
<text x="323.79" y="442.47" font-size="5.1" text-anchor="middle" fill="#fff" stroke="#fff" stroke-width="0.12" font-weight="bold">1</text>
<rect x="331.02" y="436.61" width="12.66" height="8.01" fill="#deebf7"/>
<text x="337.35" y="442.47" font-size="5.1" text-anchor="middle" fill="#fff" stroke="#fff" stroke-width="0.12" font-weight="bold">0</text>
<rect x="344.58" y="436.61" width="12.66" height="8.01" fill="#deebf7"/>
<text x="350.91" y="442.47" font-size="5.1" text-anchor="middle" fill="#fff" stroke="#fff" stroke-width="0.12" font-weight="bold">0</text>
<rect x="358.14" y="436.61" width="12.66" height="8.01" fill="#deebf7"/>
<text x="364.47" y="442.47" font-size="5.1" text-anchor="middle" fill="#fff" stroke="#fff" stroke-width="0.12" font-weight="bold">0</text>
<rect x="371.70" y="436.61" width="12.66" height="8.01" fill="#488ed2"/>
<text x="378.03" y="442.47" font-size="5.1" text-anchor="middle" fill="#fff" stroke="#fff" stroke-width="0.12" font-weight="bold">3</text>
<rect x="385.26" y="436.61" width="12.66" height="8.01" fill="#accceb"/>
<text x="391.59" y="442.47" font-size="5.1" text-anchor="middle" fill="#fff" stroke="#fff" stroke-width="0.12" font-weight="bold">1</text>
<rect x="398.82" y="436.61" width="12.66" height="8.01" fill="#deebf7"/>
<text x="405.15" y="442.47" font-size="5.1" text-anchor="middle" fill="#fff" stroke="#fff" stroke-width="0.12" font-weight="bold">0</text>
<rect x="412.38" y="436.61" width="12.66" height="8.01" fill="#accceb"/>
<text x="418.71" y="442.47" font-size="5.1" text-anchor="middle" fill="#fff" stroke="#fff" stroke-width="0.12" font-weight="bold">1</text>
<rect x="425.94" y="436.61" width="12.66" height="8.01" fill="#deebf7"/>
<text x="432.27" y="442.47" font-size="5.1" text-anchor="middle" fill="#fff" stroke="#fff" stroke-width="0.12" font-weight="bold">0</text>
<rect x="439.50" y="436.61" width="12.66" height="8.01" fill="#488ed2"/>
<text x="445.83" y="442.47" font-size="5.1" text-anchor="middle" fill="#fff" stroke="#fff" stroke-width="0.12" font-weight="bold">3</text>
<rect x="303.90" y="445.52" width="12.66" height="8.01" fill="#deebf7"/>
<text x="310.23" y="451.38" font-size="5.1" text-anchor="middle" fill="#fff" stroke="#fff" stroke-width="0.12" font-weight="bold">1</text>
<rect x="317.46" y="445.52" width="12.66" height="8.01" fill="#deebf7"/>
<text x="323.79" y="451.38" font-size="5.1" text-anchor="middle" fill="#fff" stroke="#fff" stroke-width="0.12" font-weight="bold">1</text>
<rect x="331.02" y="445.52" width="12.66" height="8.01" fill="#deebf7"/>
<text x="337.35" y="451.38" font-size="5.1" text-anchor="middle" fill="#fff" stroke="#fff" stroke-width="0.12" font-weight="bold">1</text>
<rect x="344.58" y="445.52" width="12.66" height="8.01" fill="#accceb"/>
<text x="350.91" y="451.38" font-size="5.1" text-anchor="middle" fill="#fff" stroke="#fff" stroke-width="0.12" font-weight="bold">2</text>
<rect x="358.14" y="445.52" width="12.66" height="8.01" fill="#accceb"/>
<text x="364.47" y="451.38" font-size="5.1" text-anchor="middle" fill="#fff" stroke="#fff" stroke-width="0.12" font-weight="bold">2</text>
<rect x="371.70" y="445.52" width="12.66" height="8.01" fill="#deebf7"/>
<text x="378.03" y="451.38" font-size="5.1" text-anchor="middle" fill="#fff" stroke="#fff" stroke-width="0.12" font-weight="bold">1</text>
<rect x="385.26" y="445.52" width="12.66" height="8.01" fill="#deebf7"/>
<text x="391.59" y="451.38" font-size="5.1" text-anchor="middle" fill="#fff" stroke="#fff" stroke-width="0.12" font-weight="bold">1</text>
<rect x="398.82" y="445.52" width="12.66" height="8.01" fill="#deebf7"/>
<text x="405.15" y="451.38" font-size="5.1" text-anchor="middle" fill="#fff" stroke="#fff" stroke-width="0.12" font-weight="bold">1</text>
<rect x="412.38" y="445.52" width="12.66" height="8.01" fill="#deebf7"/>
<text x="418.71" y="451.38" font-size="5.1" text-anchor="middle" fill="#fff" stroke="#fff" stroke-width="0.12" font-weight="bold">1</text>
<rect x="425.94" y="445.52" width="12.66" height="8.01" fill="#deebf7"/>
<text x="432.27" y="451.38" font-size="5.1" text-anchor="middle" fill="#fff" stroke="#fff" stroke-width="0.12" font-weight="bold">1</text>
<rect x="439.50" y="445.52" width="12.66" height="8.01" fill="#488ed2"/>
<text x="445.83" y="451.38" font-size="5.1" text-anchor="middle" fill="#fff" stroke="#fff" stroke-width="0.12" font-weight="bold">4</text>
<rect x="303.90" y="454.44" width="12.66" height="8.01" fill="#deebf7"/>
<text x="310.23" y="460.29" font-size="5.1" text-anchor="middle" fill="#fff" stroke="#fff" stroke-width="0.12" font-weight="bold">1</text>
<rect x="317.46" y="454.44" width="12.66" height="8.01" fill="#deebf7"/>
<text x="323.79" y="460.29" font-size="5.1" text-anchor="middle" fill="#fff" stroke="#fff" stroke-width="0.12" font-weight="bold">1</text>
<rect x="331.02" y="454.44" width="12.66" height="8.01" fill="#deebf7"/>
<text x="337.35" y="460.29" font-size="5.1" text-anchor="middle" fill="#fff" stroke="#fff" stroke-width="0.12" font-weight="bold">1</text>
<rect x="344.58" y="454.44" width="12.66" height="8.01" fill="#deebf7"/>
<text x="350.91" y="460.29" font-size="5.1" text-anchor="middle" fill="#fff" stroke="#fff" stroke-width="0.12" font-weight="bold">1</text>
<rect x="358.14" y="454.44" width="12.66" height="8.01" fill="#deebf7"/>
<text x="364.47" y="460.29" font-size="5.1" text-anchor="middle" fill="#fff" stroke="#fff" stroke-width="0.12" font-weight="bold">1</text>
<rect x="371.70" y="454.44" width="12.66" height="8.01" fill="#deebf7"/>
<text x="378.03" y="460.29" font-size="5.1" text-anchor="middle" fill="#fff" stroke="#fff" stroke-width="0.12" font-weight="bold">1</text>
<rect x="385.26" y="454.44" width="12.66" height="8.01" fill="#93bce4"/>
<text x="391.59" y="460.29" font-size="5.1" text-anchor="middle" fill="#fff" stroke="#fff" stroke-width="0.12" font-weight="bold">2</text>
<rect x="398.82" y="454.44" width="12.66" height="8.01" fill="#deebf7"/>
<text x="405.15" y="460.29" font-size="5.1" text-anchor="middle" fill="#fff" stroke="#fff" stroke-width="0.12" font-weight="bold">1</text>
<rect x="412.38" y="454.44" width="12.66" height="8.01" fill="#deebf7"/>
<text x="418.71" y="460.29" font-size="5.1" text-anchor="middle" fill="#fff" stroke="#fff" stroke-width="0.12" font-weight="bold">1</text>
<rect x="425.94" y="454.44" width="12.66" height="8.01" fill="#deebf7"/>
<text x="432.27" y="460.29" font-size="5.1" text-anchor="middle" fill="#fff" stroke="#fff" stroke-width="0.12" font-weight="bold">1</text>
<rect x="439.50" y="454.44" width="12.66" height="8.01" fill="#488ed2"/>
<text x="445.83" y="460.29" font-size="5.1" text-anchor="middle" fill="#fff" stroke="#fff" stroke-width="0.12" font-weight="bold">3</text>
<rect x="303.90" y="463.35" width="12.66" height="8.01" fill="#deebf7"/>
<text x="310.23" y="469.20" font-size="5.1" text-anchor="middle" fill="#fff" stroke="#fff" stroke-width="0.12" font-weight="bold">1</text>
<rect x="317.46" y="463.35" width="12.66" height="8.01" fill="#deebf7"/>
<text x="323.79" y="469.20" font-size="5.1" text-anchor="middle" fill="#fff" stroke="#fff" stroke-width="0.12" font-weight="bold">1</text>
<rect x="331.02" y="463.35" width="12.66" height="8.01" fill="#deebf7"/>
<text x="337.35" y="469.20" font-size="5.1" text-anchor="middle" fill="#fff" stroke="#fff" stroke-width="0.12" font-weight="bold">1</text>
<rect x="344.58" y="463.35" width="12.66" height="8.01" fill="#deebf7"/>
<text x="350.91" y="469.20" font-size="5.1" text-anchor="middle" fill="#fff" stroke="#fff" stroke-width="0.12" font-weight="bold">1</text>
<rect x="358.14" y="463.35" width="12.66" height="8.01" fill="#deebf7"/>
<text x="364.47" y="469.20" font-size="5.1" text-anchor="middle" fill="#fff" stroke="#fff" stroke-width="0.12" font-weight="bold">1</text>
<rect x="371.70" y="463.35" width="12.66" height="8.01" fill="#deebf7"/>
<text x="378.03" y="469.20" font-size="5.1" text-anchor="middle" fill="#fff" stroke="#fff" stroke-width="0.12" font-weight="bold">1</text>
<rect x="385.26" y="463.35" width="12.66" height="8.01" fill="#deebf7"/>
<text x="391.59" y="469.20" font-size="5.1" text-anchor="middle" fill="#fff" stroke="#fff" stroke-width="0.12" font-weight="bold">1</text>
<rect x="398.82" y="463.35" width="12.66" height="8.01" fill="#deebf7"/>
<text x="405.15" y="469.20" font-size="5.1" text-anchor="middle" fill="#fff" stroke="#fff" stroke-width="0.12" font-weight="bold">1</text>
<rect x="412.38" y="463.35" width="12.66" height="8.01" fill="#deebf7"/>
<text x="418.71" y="469.20" font-size="5.1" text-anchor="middle" fill="#fff" stroke="#fff" stroke-width="0.12" font-weight="bold">1</text>
<rect x="425.94" y="463.35" width="12.66" height="8.01" fill="#deebf7"/>
<text x="432.27" y="469.20" font-size="5.1" text-anchor="middle" fill="#fff" stroke="#fff" stroke-width="0.12" font-weight="bold">1</text>
<rect x="439.50" y="463.35" width="12.66" height="8.01" fill="#488ed2"/>
<text x="445.83" y="469.20" font-size="5.1" text-anchor="middle" fill="#fff" stroke="#fff" stroke-width="0.12" font-weight="bold">2</text>
<rect x="303.90" y="472.26" width="12.66" height="8.01" fill="#deebf7"/>
<text x="310.23" y="478.12" font-size="5.1" text-anchor="middle" fill="#fff" stroke="#fff" stroke-width="0.12" font-weight="bold">0</text>
<rect x="317.46" y="472.26" width="12.66" height="8.01" fill="#a7c9ea"/>
<text x="323.79" y="478.12" font-size="5.1" text-anchor="middle" fill="#fff" stroke="#fff" stroke-width="0.12" font-weight="bold">4</text>
<rect x="331.02" y="472.26" width="12.66" height="8.01" fill="#deebf7"/>
<text x="337.35" y="478.12" font-size="5.1" text-anchor="middle" fill="#fff" stroke="#fff" stroke-width="0.12" font-weight="bold">0</text>
<rect x="344.58" y="472.26" width="12.66" height="8.01" fill="#639fd9"/>
<text x="350.91" y="478.12" font-size="5.1" text-anchor="middle" fill="#fff" stroke="#fff" stroke-width="0.12" font-weight="bold">9</text>
<rect x="358.14" y="472.26" width="12.66" height="8.01" fill="#c3daf0"/>
<text x="364.47" y="478.12" font-size="5.1" text-anchor="middle" fill="#fff" stroke="#fff" stroke-width="0.12" font-weight="bold">2</text>
<rect x="371.70" y="472.26" width="12.66" height="8.01" fill="#639fd9"/>
<text x="378.03" y="478.12" font-size="5.1" text-anchor="middle" fill="#fff" stroke="#fff" stroke-width="0.12" font-weight="bold">9</text>
<rect x="385.26" y="472.26" width="12.66" height="8.01" fill="#d0e3f4"/>
<text x="391.59" y="478.12" font-size="5.1" text-anchor="middle" fill="#fff" stroke="#fff" stroke-width="0.12" font-weight="bold">1</text>
<rect x="398.82" y="472.26" width="12.66" height="8.01" fill="#c3daf0"/>
<text x="405.15" y="478.12" font-size="5.1" text-anchor="middle" fill="#fff" stroke="#fff" stroke-width="0.12" font-weight="bold">2</text>
<rect x="412.38" y="472.26" width="12.66" height="8.01" fill="#b5d2ed"/>
<text x="418.71" y="478.12" font-size="5.1" text-anchor="middle" fill="#fff" stroke="#fff" stroke-width="0.12" font-weight="bold">3</text>
<rect x="425.94" y="472.26" width="12.66" height="8.01" fill="#deebf7"/>
<text x="432.27" y="478.12" font-size="5.1" text-anchor="middle" fill="#fff" stroke="#fff" stroke-width="0.12" font-weight="bold">0</text>
<rect x="439.50" y="472.26" width="12.66" height="8.01" fill="#488ed2"/>
<text x="445.83" y="478.12" font-size="5.1" text-anchor="middle" fill="#fff" stroke="#fff" stroke-width="0.12" font-weight="bold">11</text>
<rect x="303.90" y="481.17" width="12.66" height="8.01" fill="#a2c6e8"/>
<text x="310.23" y="487.03" font-size="5.1" text-anchor="middle" fill="#fff" stroke="#fff" stroke-width="0.12" font-weight="bold">2</text>
<rect x="317.46" y="481.17" width="12.66" height="8.01" fill="#c0d8f0"/>
<text x="323.79" y="487.03" font-size="5.1" text-anchor="middle" fill="#fff" stroke="#fff" stroke-width="0.12" font-weight="bold">1</text>
<rect x="331.02" y="481.17" width="12.66" height="8.01" fill="#deebf7"/>
<text x="337.35" y="487.03" font-size="5.1" text-anchor="middle" fill="#fff" stroke="#fff" stroke-width="0.12" font-weight="bold">0</text>
<rect x="344.58" y="481.17" width="12.66" height="8.01" fill="#c0d8f0"/>
<text x="350.91" y="487.03" font-size="5.1" text-anchor="middle" fill="#fff" stroke="#fff" stroke-width="0.12" font-weight="bold">1</text>
<rect x="358.14" y="481.17" width="12.66" height="8.01" fill="#66a1d9"/>
<text x="364.47" y="487.03" font-size="5.1" text-anchor="middle" fill="#fff" stroke="#fff" stroke-width="0.12" font-weight="bold">4</text>
<rect x="371.70" y="481.17" width="12.66" height="8.01" fill="#c0d8f0"/>
<text x="378.03" y="487.03" font-size="5.1" text-anchor="middle" fill="#fff" stroke="#fff" stroke-width="0.12" font-weight="bold">1</text>
<rect x="385.26" y="481.17" width="12.66" height="8.01" fill="#c0d8f0"/>
<text x="391.59" y="487.03" font-size="5.1" text-anchor="middle" fill="#fff" stroke="#fff" stroke-width="0.12" font-weight="bold">1</text>
<rect x="398.82" y="481.17" width="12.66" height="8.01" fill="#488ed2"/>
<text x="405.15" y="487.03" font-size="5.1" text-anchor="middle" fill="#fff" stroke="#fff" stroke-width="0.12" font-weight="bold">5</text>
<rect x="412.38" y="481.17" width="12.66" height="8.01" fill="#a2c6e8"/>
<text x="418.71" y="487.03" font-size="5.1" text-anchor="middle" fill="#fff" stroke="#fff" stroke-width="0.12" font-weight="bold">2</text>
<rect x="425.94" y="481.17" width="12.66" height="8.01" fill="#c0d8f0"/>
<text x="432.27" y="487.03" font-size="5.1" text-anchor="middle" fill="#fff" stroke="#fff" stroke-width="0.12" font-weight="bold">1</text>
<rect x="439.50" y="481.17" width="12.66" height="8.01" fill="#84b3e1"/>
<text x="445.83" y="487.03" font-size="5.1" text-anchor="middle" fill="#fff" stroke="#fff" stroke-width="0.12" font-weight="bold">3</text>
<rect x="303.90" y="490.08" width="12.66" height="8.01" fill="#b8d4ee"/>
<text x="310.23" y="495.94" font-size="5.1" text-anchor="middle" fill="#fff" stroke="#fff" stroke-width="0.12" font-weight="bold">1</text>
<rect x="317.46" y="490.08" width="12.66" height="8.01" fill="#b8d4ee"/>
<text x="323.79" y="495.94" font-size="5.1" text-anchor="middle" fill="#fff" stroke="#fff" stroke-width="0.12" font-weight="bold">1</text>
<rect x="331.02" y="490.08" width="12.66" height="8.01" fill="#b8d4ee"/>
<text x="337.35" y="495.94" font-size="5.1" text-anchor="middle" fill="#fff" stroke="#fff" stroke-width="0.12" font-weight="bold">1</text>
<rect x="344.58" y="490.08" width="12.66" height="8.01" fill="#93bce4"/>
<text x="350.91" y="495.94" font-size="5.1" text-anchor="middle" fill="#fff" stroke="#fff" stroke-width="0.12" font-weight="bold">2</text>
<rect x="358.14" y="490.08" width="12.66" height="8.01" fill="#deebf7"/>
<text x="364.47" y="495.94" font-size="5.1" text-anchor="middle" fill="#fff" stroke="#fff" stroke-width="0.12" font-weight="bold">0</text>
<rect x="371.70" y="490.08" width="12.66" height="8.01" fill="#b8d4ee"/>
<text x="378.03" y="495.94" font-size="5.1" text-anchor="middle" fill="#fff" stroke="#fff" stroke-width="0.12" font-weight="bold">1</text>
<rect x="385.26" y="490.08" width="12.66" height="8.01" fill="#b8d4ee"/>
<text x="391.59" y="495.94" font-size="5.1" text-anchor="middle" fill="#fff" stroke="#fff" stroke-width="0.12" font-weight="bold">1</text>
<rect x="398.82" y="490.08" width="12.66" height="8.01" fill="#b8d4ee"/>
<text x="405.15" y="495.94" font-size="5.1" text-anchor="middle" fill="#fff" stroke="#fff" stroke-width="0.12" font-weight="bold">1</text>
<rect x="412.38" y="490.08" width="12.66" height="8.01" fill="#93bce4"/>
<text x="418.71" y="495.94" font-size="5.1" text-anchor="middle" fill="#fff" stroke="#fff" stroke-width="0.12" font-weight="bold">2</text>
<rect x="425.94" y="490.08" width="12.66" height="8.01" fill="#93bce4"/>
<text x="432.27" y="495.94" font-size="5.1" text-anchor="middle" fill="#fff" stroke="#fff" stroke-width="0.12" font-weight="bold">2</text>
<rect x="439.50" y="490.08" width="12.66" height="8.01" fill="#488ed2"/>
<text x="445.83" y="495.94" font-size="5.1" text-anchor="middle" fill="#fff" stroke="#fff" stroke-width="0.12" font-weight="bold">4</text>
<rect x="303.90" y="499.00" width="12.66" height="8.01" fill="#deebf7"/>
<text x="310.23" y="504.85" font-size="5.1" text-anchor="middle" fill="#fff" stroke="#fff" stroke-width="0.12" font-weight="bold">0</text>
<rect x="317.46" y="499.00" width="12.66" height="8.01" fill="#c0d8f0"/>
<text x="323.79" y="504.85" font-size="5.1" text-anchor="middle" fill="#fff" stroke="#fff" stroke-width="0.12" font-weight="bold">1</text>
<rect x="331.02" y="499.00" width="12.66" height="8.01" fill="#deebf7"/>
<text x="337.35" y="504.85" font-size="5.1" text-anchor="middle" fill="#fff" stroke="#fff" stroke-width="0.12" font-weight="bold">0</text>
<rect x="344.58" y="499.00" width="12.66" height="8.01" fill="#a2c6e8"/>
<text x="350.91" y="504.85" font-size="5.1" text-anchor="middle" fill="#fff" stroke="#fff" stroke-width="0.12" font-weight="bold">2</text>
<rect x="358.14" y="499.00" width="12.66" height="8.01" fill="#deebf7"/>
<text x="364.47" y="504.85" font-size="5.1" text-anchor="middle" fill="#fff" stroke="#fff" stroke-width="0.12" font-weight="bold">0</text>
<rect x="371.70" y="499.00" width="12.66" height="8.01" fill="#a2c6e8"/>
<text x="378.03" y="504.85" font-size="5.1" text-anchor="middle" fill="#fff" stroke="#fff" stroke-width="0.12" font-weight="bold">2</text>
<rect x="385.26" y="499.00" width="12.66" height="8.01" fill="#deebf7"/>
<text x="391.59" y="504.85" font-size="5.1" text-anchor="middle" fill="#fff" stroke="#fff" stroke-width="0.12" font-weight="bold">0</text>
<rect x="398.82" y="499.00" width="12.66" height="8.01" fill="#c0d8f0"/>
<text x="405.15" y="504.85" font-size="5.1" text-anchor="middle" fill="#fff" stroke="#fff" stroke-width="0.12" font-weight="bold">1</text>
<rect x="412.38" y="499.00" width="12.66" height="8.01" fill="#a2c6e8"/>
<text x="418.71" y="504.85" font-size="5.1" text-anchor="middle" fill="#fff" stroke="#fff" stroke-width="0.12" font-weight="bold">2</text>
<rect x="425.94" y="499.00" width="12.66" height="8.01" fill="#deebf7"/>
<text x="432.27" y="504.85" font-size="5.1" text-anchor="middle" fill="#fff" stroke="#fff" stroke-width="0.12" font-weight="bold">0</text>
<rect x="439.50" y="499.00" width="12.66" height="8.01" fill="#488ed2"/>
<text x="445.83" y="504.85" font-size="5.1" text-anchor="middle" fill="#fff" stroke="#fff" stroke-width="0.12" font-weight="bold">5</text>
<rect x="303.90" y="507.91" width="12.66" height="8.01" fill="#93bce4"/>
<text x="310.23" y="513.76" font-size="5.1" text-anchor="middle" fill="#fff" stroke="#fff" stroke-width="0.12" font-weight="bold">1</text>
<rect x="317.46" y="507.91" width="12.66" height="8.01" fill="#488ed2"/>
<text x="323.79" y="513.76" font-size="5.1" text-anchor="middle" fill="#fff" stroke="#fff" stroke-width="0.12" font-weight="bold">2</text>
<rect x="331.02" y="507.91" width="12.66" height="8.01" fill="#deebf7"/>
<text x="337.35" y="513.76" font-size="5.1" text-anchor="middle" fill="#fff" stroke="#fff" stroke-width="0.12" font-weight="bold">0</text>
<rect x="344.58" y="507.91" width="12.66" height="8.01" fill="#488ed2"/>
<text x="350.91" y="513.76" font-size="5.1" text-anchor="middle" fill="#fff" stroke="#fff" stroke-width="0.12" font-weight="bold">2</text>
<rect x="358.14" y="507.91" width="12.66" height="8.01" fill="#deebf7"/>
<text x="364.47" y="513.76" font-size="5.1" text-anchor="middle" fill="#fff" stroke="#fff" stroke-width="0.12" font-weight="bold">0</text>
<rect x="371.70" y="507.91" width="12.66" height="8.01" fill="#deebf7"/>
<text x="378.03" y="513.76" font-size="5.1" text-anchor="middle" fill="#fff" stroke="#fff" stroke-width="0.12" font-weight="bold">0</text>
<rect x="385.26" y="507.91" width="12.66" height="8.01" fill="#93bce4"/>
<text x="391.59" y="513.76" font-size="5.1" text-anchor="middle" fill="#fff" stroke="#fff" stroke-width="0.12" font-weight="bold">1</text>
<rect x="398.82" y="507.91" width="12.66" height="8.01" fill="#93bce4"/>
<text x="405.15" y="513.76" font-size="5.1" text-anchor="middle" fill="#fff" stroke="#fff" stroke-width="0.12" font-weight="bold">1</text>
<rect x="412.38" y="507.91" width="12.66" height="8.01" fill="#488ed2"/>
<text x="418.71" y="513.76" font-size="5.1" text-anchor="middle" fill="#fff" stroke="#fff" stroke-width="0.12" font-weight="bold">2</text>
<rect x="425.94" y="507.91" width="12.66" height="8.01" fill="#93bce4"/>
<text x="432.27" y="513.76" font-size="5.1" text-anchor="middle" fill="#fff" stroke="#fff" stroke-width="0.12" font-weight="bold">1</text>
<rect x="439.50" y="507.91" width="12.66" height="8.01" fill="#488ed2"/>
<text x="445.83" y="513.76" font-size="5.1" text-anchor="middle" fill="#fff" stroke="#fff" stroke-width="0.12" font-weight="bold">2</text>
<rect x="303.90" y="516.82" width="12.66" height="8.01" fill="#deebf7"/>
<text x="310.23" y="522.68" font-size="5.1" text-anchor="middle" fill="#fff" stroke="#fff" stroke-width="0.12" font-weight="bold">0</text>
<rect x="317.46" y="516.82" width="12.66" height="8.01" fill="#accceb"/>
<text x="323.79" y="522.68" font-size="5.1" text-anchor="middle" fill="#fff" stroke="#fff" stroke-width="0.12" font-weight="bold">1</text>
<rect x="331.02" y="516.82" width="12.66" height="8.01" fill="#deebf7"/>
<text x="337.35" y="522.68" font-size="5.1" text-anchor="middle" fill="#fff" stroke="#fff" stroke-width="0.12" font-weight="bold">0</text>
<rect x="344.58" y="516.82" width="12.66" height="8.01" fill="#deebf7"/>
<text x="350.91" y="522.68" font-size="5.1" text-anchor="middle" fill="#fff" stroke="#fff" stroke-width="0.12" font-weight="bold">0</text>
<rect x="358.14" y="516.82" width="12.66" height="8.01" fill="#deebf7"/>
<text x="364.47" y="522.68" font-size="5.1" text-anchor="middle" fill="#fff" stroke="#fff" stroke-width="0.12" font-weight="bold">0</text>
<rect x="371.70" y="516.82" width="12.66" height="8.01" fill="#7aadde"/>
<text x="378.03" y="522.68" font-size="5.1" text-anchor="middle" fill="#fff" stroke="#fff" stroke-width="0.12" font-weight="bold">2</text>
<rect x="385.26" y="516.82" width="12.66" height="8.01" fill="#deebf7"/>
<text x="391.59" y="522.68" font-size="5.1" text-anchor="middle" fill="#fff" stroke="#fff" stroke-width="0.12" font-weight="bold">0</text>
<rect x="398.82" y="516.82" width="12.66" height="8.01" fill="#deebf7"/>
<text x="405.15" y="522.68" font-size="5.1" text-anchor="middle" fill="#fff" stroke="#fff" stroke-width="0.12" font-weight="bold">0</text>
<rect x="412.38" y="516.82" width="12.66" height="8.01" fill="#488ed2"/>
<text x="418.71" y="522.68" font-size="5.1" text-anchor="middle" fill="#fff" stroke="#fff" stroke-width="0.12" font-weight="bold">3</text>
<rect x="425.94" y="516.82" width="12.66" height="8.01" fill="#deebf7"/>
<text x="432.27" y="522.68" font-size="5.1" text-anchor="middle" fill="#fff" stroke="#fff" stroke-width="0.12" font-weight="bold">0</text>
<rect x="439.50" y="516.82" width="12.66" height="8.01" fill="#7aadde"/>
<text x="445.83" y="522.68" font-size="5.1" text-anchor="middle" fill="#fff" stroke="#fff" stroke-width="0.12" font-weight="bold">2</text>
<rect x="303.90" y="525.73" width="12.66" height="8.01" fill="#deebf7"/>
<text x="310.23" y="531.59" font-size="5.1" text-anchor="middle" fill="#fff" stroke="#fff" stroke-width="0.12" font-weight="bold">0</text>
<rect x="317.46" y="525.73" width="12.66" height="8.01" fill="#88b6e2"/>
<text x="323.79" y="531.59" font-size="5.1" text-anchor="middle" fill="#fff" stroke="#fff" stroke-width="0.12" font-weight="bold">4</text>
<rect x="331.02" y="525.73" width="12.66" height="8.01" fill="#deebf7"/>
<text x="337.35" y="531.59" font-size="5.1" text-anchor="middle" fill="#fff" stroke="#fff" stroke-width="0.12" font-weight="bold">0</text>
<rect x="344.58" y="525.73" width="12.66" height="8.01" fill="#deebf7"/>
<text x="350.91" y="531.59" font-size="5.1" text-anchor="middle" fill="#fff" stroke="#fff" stroke-width="0.12" font-weight="bold">0</text>
<rect x="358.14" y="525.73" width="12.66" height="8.01" fill="#deebf7"/>
<text x="364.47" y="531.59" font-size="5.1" text-anchor="middle" fill="#fff" stroke="#fff" stroke-width="0.12" font-weight="bold">0</text>
<rect x="371.70" y="525.73" width="12.66" height="8.01" fill="#deebf7"/>
<text x="378.03" y="531.59" font-size="5.1" text-anchor="middle" fill="#fff" stroke="#fff" stroke-width="0.12" font-weight="bold">0</text>
<rect x="385.26" y="525.73" width="12.66" height="8.01" fill="#deebf7"/>
<text x="391.59" y="531.59" font-size="5.1" text-anchor="middle" fill="#fff" stroke="#fff" stroke-width="0.12" font-weight="bold">0</text>
<rect x="398.82" y="525.73" width="12.66" height="8.01" fill="#c9def2"/>
<text x="405.15" y="531.59" font-size="5.1" text-anchor="middle" fill="#fff" stroke="#fff" stroke-width="0.12" font-weight="bold">1</text>
<rect x="412.38" y="525.73" width="12.66" height="8.01" fill="#c9def2"/>
<text x="418.71" y="531.59" font-size="5.1" text-anchor="middle" fill="#fff" stroke="#fff" stroke-width="0.12" font-weight="bold">1</text>
<rect x="425.94" y="525.73" width="12.66" height="8.01" fill="#deebf7"/>
<text x="432.27" y="531.59" font-size="5.1" text-anchor="middle" fill="#fff" stroke="#fff" stroke-width="0.12" font-weight="bold">0</text>
<rect x="439.50" y="525.73" width="12.66" height="8.01" fill="#488ed2"/>
<text x="445.83" y="531.59" font-size="5.1" text-anchor="middle" fill="#fff" stroke="#fff" stroke-width="0.12" font-weight="bold">7</text>
<rect x="303.90" y="534.64" width="12.66" height="8.01" fill="#deebf7"/>
<text x="310.23" y="540.50" font-size="5.1" text-anchor="middle" fill="#fff" stroke="#fff" stroke-width="0.12" font-weight="bold">0</text>
<rect x="317.46" y="534.64" width="12.66" height="8.01" fill="#deebf7"/>
<text x="323.79" y="540.50" font-size="5.1" text-anchor="middle" fill="#fff" stroke="#fff" stroke-width="0.12" font-weight="bold">0</text>
<rect x="331.02" y="534.64" width="12.66" height="8.01" fill="#deebf7"/>
<text x="337.35" y="540.50" font-size="5.1" text-anchor="middle" fill="#fff" stroke="#fff" stroke-width="0.12" font-weight="bold">0</text>
<rect x="344.58" y="534.64" width="12.66" height="8.01" fill="#deebf7"/>
<text x="350.91" y="540.50" font-size="5.1" text-anchor="middle" fill="#fff" stroke="#fff" stroke-width="0.12" font-weight="bold">0</text>
<rect x="358.14" y="534.64" width="12.66" height="8.01" fill="#deebf7"/>
<text x="364.47" y="540.50" font-size="5.1" text-anchor="middle" fill="#fff" stroke="#fff" stroke-width="0.12" font-weight="bold">0</text>
<rect x="371.70" y="534.64" width="12.66" height="8.01" fill="#488ed2"/>
<text x="378.03" y="540.50" font-size="5.1" text-anchor="middle" fill="#fff" stroke="#fff" stroke-width="0.12" font-weight="bold">2</text>
<rect x="385.26" y="534.64" width="12.66" height="8.01" fill="#deebf7"/>
<text x="391.59" y="540.50" font-size="5.1" text-anchor="middle" fill="#fff" stroke="#fff" stroke-width="0.12" font-weight="bold">0</text>
<rect x="398.82" y="534.64" width="12.66" height="8.01" fill="#deebf7"/>
<text x="405.15" y="540.50" font-size="5.1" text-anchor="middle" fill="#fff" stroke="#fff" stroke-width="0.12" font-weight="bold">0</text>
<rect x="412.38" y="534.64" width="12.66" height="8.01" fill="#488ed2"/>
<text x="418.71" y="540.50" font-size="5.1" text-anchor="middle" fill="#fff" stroke="#fff" stroke-width="0.12" font-weight="bold">2</text>
<rect x="425.94" y="534.64" width="12.66" height="8.01" fill="#93bce4"/>
<text x="432.27" y="540.50" font-size="5.1" text-anchor="middle" fill="#fff" stroke="#fff" stroke-width="0.12" font-weight="bold">1</text>
<rect x="439.50" y="534.64" width="12.66" height="8.01" fill="#488ed2"/>
<text x="445.83" y="540.50" font-size="5.1" text-anchor="middle" fill="#fff" stroke="#fff" stroke-width="0.12" font-weight="bold">2</text>
<rect x="303.90" y="543.56" width="12.66" height="8.01" fill="#accceb"/>
<text x="310.23" y="549.41" font-size="5.1" text-anchor="middle" fill="#fff" stroke="#fff" stroke-width="0.12" font-weight="bold">2</text>
<rect x="317.46" y="543.56" width="12.66" height="8.01" fill="#7aadde"/>
<text x="323.79" y="549.41" font-size="5.1" text-anchor="middle" fill="#fff" stroke="#fff" stroke-width="0.12" font-weight="bold">3</text>
<rect x="331.02" y="543.56" width="12.66" height="8.01" fill="#deebf7"/>
<text x="337.35" y="549.41" font-size="5.1" text-anchor="middle" fill="#fff" stroke="#fff" stroke-width="0.12" font-weight="bold">1</text>
<rect x="344.58" y="543.56" width="12.66" height="8.01" fill="#488ed2"/>
<text x="350.91" y="549.41" font-size="5.1" text-anchor="middle" fill="#fff" stroke="#fff" stroke-width="0.12" font-weight="bold">4</text>
<rect x="358.14" y="543.56" width="12.66" height="8.01" fill="#accceb"/>
<text x="364.47" y="549.41" font-size="5.1" text-anchor="middle" fill="#fff" stroke="#fff" stroke-width="0.12" font-weight="bold">2</text>
<rect x="371.70" y="543.56" width="12.66" height="8.01" fill="#accceb"/>
<text x="378.03" y="549.41" font-size="5.1" text-anchor="middle" fill="#fff" stroke="#fff" stroke-width="0.12" font-weight="bold">2</text>
<rect x="385.26" y="543.56" width="12.66" height="8.01" fill="#accceb"/>
<text x="391.59" y="549.41" font-size="5.1" text-anchor="middle" fill="#fff" stroke="#fff" stroke-width="0.12" font-weight="bold">2</text>
<rect x="398.82" y="543.56" width="12.66" height="8.01" fill="#7aadde"/>
<text x="405.15" y="549.41" font-size="5.1" text-anchor="middle" fill="#fff" stroke="#fff" stroke-width="0.12" font-weight="bold">3</text>
<rect x="412.38" y="543.56" width="12.66" height="8.01" fill="#accceb"/>
<text x="418.71" y="549.41" font-size="5.1" text-anchor="middle" fill="#fff" stroke="#fff" stroke-width="0.12" font-weight="bold">2</text>
<rect x="425.94" y="543.56" width="12.66" height="8.01" fill="#accceb"/>
<text x="432.27" y="549.41" font-size="5.1" text-anchor="middle" fill="#fff" stroke="#fff" stroke-width="0.12" font-weight="bold">2</text>
<rect x="439.50" y="543.56" width="12.66" height="8.01" fill="#7aadde"/>
<text x="445.83" y="549.41" font-size="5.1" text-anchor="middle" fill="#fff" stroke="#fff" stroke-width="0.12" font-weight="bold">3</text>
<rect x="303.90" y="552.47" width="12.66" height="8.01" fill="#accceb"/>
<text x="310.23" y="558.32" font-size="5.1" text-anchor="middle" fill="#fff" stroke="#fff" stroke-width="0.12" font-weight="bold">1</text>
<rect x="317.46" y="552.47" width="12.66" height="8.01" fill="#accceb"/>
<text x="323.79" y="558.32" font-size="5.1" text-anchor="middle" fill="#fff" stroke="#fff" stroke-width="0.12" font-weight="bold">1</text>
<rect x="331.02" y="552.47" width="12.66" height="8.01" fill="#488ed2"/>
<text x="337.35" y="558.32" font-size="5.1" text-anchor="middle" fill="#fff" stroke="#fff" stroke-width="0.12" font-weight="bold">3</text>
<rect x="344.58" y="552.47" width="12.66" height="8.01" fill="#accceb"/>
<text x="350.91" y="558.32" font-size="5.1" text-anchor="middle" fill="#fff" stroke="#fff" stroke-width="0.12" font-weight="bold">1</text>
<rect x="358.14" y="552.47" width="12.66" height="8.01" fill="#accceb"/>
<text x="364.47" y="558.32" font-size="5.1" text-anchor="middle" fill="#fff" stroke="#fff" stroke-width="0.12" font-weight="bold">1</text>
<rect x="371.70" y="552.47" width="12.66" height="8.01" fill="#accceb"/>
<text x="378.03" y="558.32" font-size="5.1" text-anchor="middle" fill="#fff" stroke="#fff" stroke-width="0.12" font-weight="bold">1</text>
<rect x="385.26" y="552.47" width="12.66" height="8.01" fill="#accceb"/>
<text x="391.59" y="558.32" font-size="5.1" text-anchor="middle" fill="#fff" stroke="#fff" stroke-width="0.12" font-weight="bold">1</text>
<rect x="398.82" y="552.47" width="12.66" height="8.01" fill="#accceb"/>
<text x="405.15" y="558.32" font-size="5.1" text-anchor="middle" fill="#fff" stroke="#fff" stroke-width="0.12" font-weight="bold">1</text>
<rect x="412.38" y="552.47" width="12.66" height="8.01" fill="#7aadde"/>
<text x="418.71" y="558.32" font-size="5.1" text-anchor="middle" fill="#fff" stroke="#fff" stroke-width="0.12" font-weight="bold">2</text>
<rect x="425.94" y="552.47" width="12.66" height="8.01" fill="#deebf7"/>
<text x="432.27" y="558.32" font-size="5.1" text-anchor="middle" fill="#fff" stroke="#fff" stroke-width="0.12" font-weight="bold">0</text>
<rect x="439.50" y="552.47" width="12.66" height="8.01" fill="#488ed2"/>
<text x="445.83" y="558.32" font-size="5.1" text-anchor="middle" fill="#fff" stroke="#fff" stroke-width="0.12" font-weight="bold">3</text>
<rect x="303.90" y="561.38" width="12.66" height="8.01" fill="#93bce4"/>
<text x="310.23" y="567.24" font-size="5.1" text-anchor="middle" fill="#fff" stroke="#fff" stroke-width="0.12" font-weight="bold">1</text>
<rect x="317.46" y="561.38" width="12.66" height="8.01" fill="#488ed2"/>
<text x="323.79" y="567.24" font-size="5.1" text-anchor="middle" fill="#fff" stroke="#fff" stroke-width="0.12" font-weight="bold">2</text>
<rect x="331.02" y="561.38" width="12.66" height="8.01" fill="#93bce4"/>
<text x="337.35" y="567.24" font-size="5.1" text-anchor="middle" fill="#fff" stroke="#fff" stroke-width="0.12" font-weight="bold">1</text>
<rect x="344.58" y="561.38" width="12.66" height="8.01" fill="#93bce4"/>
<text x="350.91" y="567.24" font-size="5.1" text-anchor="middle" fill="#fff" stroke="#fff" stroke-width="0.12" font-weight="bold">1</text>
<rect x="358.14" y="561.38" width="12.66" height="8.01" fill="#488ed2"/>
<text x="364.47" y="567.24" font-size="5.1" text-anchor="middle" fill="#fff" stroke="#fff" stroke-width="0.12" font-weight="bold">2</text>
<rect x="371.70" y="561.38" width="12.66" height="8.01" fill="#488ed2"/>
<text x="378.03" y="567.24" font-size="5.1" text-anchor="middle" fill="#fff" stroke="#fff" stroke-width="0.12" font-weight="bold">2</text>
<rect x="385.26" y="561.38" width="12.66" height="8.01" fill="#93bce4"/>
<text x="391.59" y="567.24" font-size="5.1" text-anchor="middle" fill="#fff" stroke="#fff" stroke-width="0.12" font-weight="bold">1</text>
<rect x="398.82" y="561.38" width="12.66" height="8.01" fill="#deebf7"/>
<text x="405.15" y="567.24" font-size="5.1" text-anchor="middle" fill="#fff" stroke="#fff" stroke-width="0.12" font-weight="bold">0</text>
<rect x="412.38" y="561.38" width="12.66" height="8.01" fill="#93bce4"/>
<text x="418.71" y="567.24" font-size="5.1" text-anchor="middle" fill="#fff" stroke="#fff" stroke-width="0.12" font-weight="bold">1</text>
<rect x="425.94" y="561.38" width="12.66" height="8.01" fill="#93bce4"/>
<text x="432.27" y="567.24" font-size="5.1" text-anchor="middle" fill="#fff" stroke="#fff" stroke-width="0.12" font-weight="bold">1</text>
<rect x="439.50" y="561.38" width="12.66" height="8.01" fill="#488ed2"/>
<text x="445.83" y="567.24" font-size="5.1" text-anchor="middle" fill="#fff" stroke="#fff" stroke-width="0.12" font-weight="bold">2</text>
<rect x="303.90" y="570.29" width="12.66" height="8.01" fill="#deebf7"/>
<text x="310.23" y="576.15" font-size="5.1" text-anchor="middle" fill="#fff" stroke="#fff" stroke-width="0.12" font-weight="bold">0</text>
<rect x="317.46" y="570.29" width="12.66" height="8.01" fill="#488ed2"/>
<text x="323.79" y="576.15" font-size="5.1" text-anchor="middle" fill="#fff" stroke="#fff" stroke-width="0.12" font-weight="bold">2</text>
<rect x="331.02" y="570.29" width="12.66" height="8.01" fill="#deebf7"/>
<text x="337.35" y="576.15" font-size="5.1" text-anchor="middle" fill="#fff" stroke="#fff" stroke-width="0.12" font-weight="bold">0</text>
<rect x="344.58" y="570.29" width="12.66" height="8.01" fill="#93bce4"/>
<text x="350.91" y="576.15" font-size="5.1" text-anchor="middle" fill="#fff" stroke="#fff" stroke-width="0.12" font-weight="bold">1</text>
<rect x="358.14" y="570.29" width="12.66" height="8.01" fill="#deebf7"/>
<text x="364.47" y="576.15" font-size="5.1" text-anchor="middle" fill="#fff" stroke="#fff" stroke-width="0.12" font-weight="bold">0</text>
<rect x="371.70" y="570.29" width="12.66" height="8.01" fill="#488ed2"/>
<text x="378.03" y="576.15" font-size="5.1" text-anchor="middle" fill="#fff" stroke="#fff" stroke-width="0.12" font-weight="bold">2</text>
<rect x="385.26" y="570.29" width="12.66" height="8.01" fill="#488ed2"/>
<text x="391.59" y="576.15" font-size="5.1" text-anchor="middle" fill="#fff" stroke="#fff" stroke-width="0.12" font-weight="bold">2</text>
<rect x="398.82" y="570.29" width="12.66" height="8.01" fill="#93bce4"/>
<text x="405.15" y="576.15" font-size="5.1" text-anchor="middle" fill="#fff" stroke="#fff" stroke-width="0.12" font-weight="bold">1</text>
<rect x="412.38" y="570.29" width="12.66" height="8.01" fill="#deebf7"/>
<text x="418.71" y="576.15" font-size="5.1" text-anchor="middle" fill="#fff" stroke="#fff" stroke-width="0.12" font-weight="bold">0</text>
<rect x="425.94" y="570.29" width="12.66" height="8.01" fill="#deebf7"/>
<text x="432.27" y="576.15" font-size="5.1" text-anchor="middle" fill="#fff" stroke="#fff" stroke-width="0.12" font-weight="bold">0</text>
<rect x="439.50" y="570.29" width="12.66" height="8.01" fill="#488ed2"/>
<text x="445.83" y="576.15" font-size="5.1" text-anchor="middle" fill="#fff" stroke="#fff" stroke-width="0.12" font-weight="bold">2</text>
<rect x="303.90" y="579.20" width="12.66" height="8.01" fill="#deebf7"/>
<text x="310.23" y="585.06" font-size="5.1" text-anchor="middle" fill="#fff" stroke="#fff" stroke-width="0.12" font-weight="bold">0</text>
<rect x="317.46" y="579.20" width="12.66" height="8.01" fill="#7aadde"/>
<text x="323.79" y="585.06" font-size="5.1" text-anchor="middle" fill="#fff" stroke="#fff" stroke-width="0.12" font-weight="bold">2</text>
<rect x="331.02" y="579.20" width="12.66" height="8.01" fill="#deebf7"/>
<text x="337.35" y="585.06" font-size="5.1" text-anchor="middle" fill="#fff" stroke="#fff" stroke-width="0.12" font-weight="bold">0</text>
<rect x="344.58" y="579.20" width="12.66" height="8.01" fill="#deebf7"/>
<text x="350.91" y="585.06" font-size="5.1" text-anchor="middle" fill="#fff" stroke="#fff" stroke-width="0.12" font-weight="bold">0</text>
<rect x="358.14" y="579.20" width="12.66" height="8.01" fill="#deebf7"/>
<text x="364.47" y="585.06" font-size="5.1" text-anchor="middle" fill="#fff" stroke="#fff" stroke-width="0.12" font-weight="bold">0</text>
<rect x="371.70" y="579.20" width="12.66" height="8.01" fill="#deebf7"/>
<text x="378.03" y="585.06" font-size="5.1" text-anchor="middle" fill="#fff" stroke="#fff" stroke-width="0.12" font-weight="bold">0</text>
<rect x="385.26" y="579.20" width="12.66" height="8.01" fill="#deebf7"/>
<text x="391.59" y="585.06" font-size="5.1" text-anchor="middle" fill="#fff" stroke="#fff" stroke-width="0.12" font-weight="bold">0</text>
<rect x="398.82" y="579.20" width="12.66" height="8.01" fill="#deebf7"/>
<text x="405.15" y="585.06" font-size="5.1" text-anchor="middle" fill="#fff" stroke="#fff" stroke-width="0.12" font-weight="bold">0</text>
<rect x="412.38" y="579.20" width="12.66" height="8.01" fill="#488ed2"/>
<text x="418.71" y="585.06" font-size="5.1" text-anchor="middle" fill="#fff" stroke="#fff" stroke-width="0.12" font-weight="bold">3</text>
<rect x="425.94" y="579.20" width="12.66" height="8.01" fill="#accceb"/>
<text x="432.27" y="585.06" font-size="5.1" text-anchor="middle" fill="#fff" stroke="#fff" stroke-width="0.12" font-weight="bold">1</text>
<rect x="439.50" y="579.20" width="12.66" height="8.01" fill="#7aadde"/>
<text x="445.83" y="585.06" font-size="5.1" text-anchor="middle" fill="#fff" stroke="#fff" stroke-width="0.12" font-weight="bold">2</text>
<rect x="303.90" y="588.12" width="12.66" height="8.01" fill="#deebf7"/>
<text x="310.23" y="593.97" font-size="5.1" text-anchor="middle" fill="#fff" stroke="#fff" stroke-width="0.12" font-weight="bold">0</text>
<rect x="317.46" y="588.12" width="12.66" height="8.01" fill="#488ed2"/>
<text x="323.79" y="593.97" font-size="5.1" text-anchor="middle" fill="#fff" stroke="#fff" stroke-width="0.12" font-weight="bold">3</text>
<rect x="331.02" y="588.12" width="12.66" height="8.01" fill="#deebf7"/>
<text x="337.35" y="593.97" font-size="5.1" text-anchor="middle" fill="#fff" stroke="#fff" stroke-width="0.12" font-weight="bold">0</text>
<rect x="344.58" y="588.12" width="12.66" height="8.01" fill="#deebf7"/>
<text x="350.91" y="593.97" font-size="5.1" text-anchor="middle" fill="#fff" stroke="#fff" stroke-width="0.12" font-weight="bold">0</text>
<rect x="358.14" y="588.12" width="12.66" height="8.01" fill="#deebf7"/>
<text x="364.47" y="593.97" font-size="5.1" text-anchor="middle" fill="#fff" stroke="#fff" stroke-width="0.12" font-weight="bold">0</text>
<rect x="371.70" y="588.12" width="12.66" height="8.01" fill="#deebf7"/>
<text x="378.03" y="593.97" font-size="5.1" text-anchor="middle" fill="#fff" stroke="#fff" stroke-width="0.12" font-weight="bold">0</text>
<rect x="385.26" y="588.12" width="12.66" height="8.01" fill="#deebf7"/>
<text x="391.59" y="593.97" font-size="5.1" text-anchor="middle" fill="#fff" stroke="#fff" stroke-width="0.12" font-weight="bold">0</text>
<rect x="398.82" y="588.12" width="12.66" height="8.01" fill="#accceb"/>
<text x="405.15" y="593.97" font-size="5.1" text-anchor="middle" fill="#fff" stroke="#fff" stroke-width="0.12" font-weight="bold">1</text>
<rect x="412.38" y="588.12" width="12.66" height="8.01" fill="#7aadde"/>
<text x="418.71" y="593.97" font-size="5.1" text-anchor="middle" fill="#fff" stroke="#fff" stroke-width="0.12" font-weight="bold">2</text>
<rect x="425.94" y="588.12" width="12.66" height="8.01" fill="#deebf7"/>
<text x="432.27" y="593.97" font-size="5.1" text-anchor="middle" fill="#fff" stroke="#fff" stroke-width="0.12" font-weight="bold">0</text>
<rect x="439.50" y="588.12" width="12.66" height="8.01" fill="#7aadde"/>
<text x="445.83" y="593.97" font-size="5.1" text-anchor="middle" fill="#fff" stroke="#fff" stroke-width="0.12" font-weight="bold">2</text>
<rect x="411.3" y="184.3" width="41.4" height="20.1" fill="none" stroke="#f8c63a" stroke-width="0.8"/>
<defs><clipPath id="cc"><rect x="554.5" y="180" width="124.8" height="430"/></clipPath></defs>
<text transform="translate(479.90 202.20) scale(0.96 1)" font-size="7.1" text-anchor="start" fill="#111" stroke="#111" stroke-width="0.12" font-weight="bold">Gene family</text>
<text transform="translate(538.70 202.20) scale(0.93 1)" font-size="7.1" text-anchor="middle" fill="#111" stroke="#111" stroke-width="0.12" font-weight="bold">Type</text>
<text transform="translate(617.70 202.20) scale(0.93 1)" font-size="7.1" text-anchor="middle" fill="#111" stroke="#111" stroke-width="0.12" font-weight="bold">Classification</text>
<line x1="476.8" y1="204.30" x2="685.0" y2="204.30" stroke="#111" stroke-width="1.15"/>
<text x="479.90" y="211.31" font-size="7.0" text-anchor="start" fill="#1a1a1a" stroke="#1a1a1a" stroke-width="0.12">OG0000194</text>
<text x="538.70" y="211.31" font-size="7.0" text-anchor="middle" fill="#1a1a1a" stroke="#1a1a1a" stroke-width="0.12">RE</text>
<text x="479.90" y="220.22" font-size="7.0" text-anchor="start" fill="#1a1a1a" stroke="#1a1a1a" stroke-width="0.12">OG0002156</text>
<text x="538.70" y="220.22" font-size="7.0" text-anchor="middle" fill="#1a1a1a" stroke="#1a1a1a" stroke-width="0.12">RE</text>
<text x="617.40" y="215.21" font-size="7.02" text-anchor="middle" fill="#1a1a1a" stroke="#1a1a1a" stroke-width="0.12" clip-path="url(#cc)">Photosystem I</text>
<line x1="476.8" y1="221.82" x2="685.0" y2="221.82" stroke="#111" stroke-width="1.15"/>
<text x="479.90" y="229.13" font-size="7.0" text-anchor="start" fill="#1a1a1a" stroke="#1a1a1a" stroke-width="0.12">OG0000545</text>
<text x="538.70" y="229.13" font-size="7.0" text-anchor="middle" fill="#1a1a1a" stroke="#1a1a1a" stroke-width="0.12">RE</text>
<text x="479.90" y="238.04" font-size="7.0" text-anchor="start" fill="#1a1a1a" stroke="#1a1a1a" stroke-width="0.12">OG0001323</text>
<text x="538.70" y="238.04" font-size="7.0" text-anchor="middle" fill="#1a1a1a" stroke="#1a1a1a" stroke-width="0.12">RE</text>
<text x="479.90" y="246.95" font-size="7.0" text-anchor="start" fill="#1a1a1a" stroke="#1a1a1a" stroke-width="0.12">OG0003349</text>
<text x="538.70" y="246.95" font-size="7.0" text-anchor="middle" fill="#1a1a1a" stroke="#1a1a1a" stroke-width="0.12">RE</text>
<text x="479.90" y="255.87" font-size="7.0" text-anchor="start" fill="#1a1a1a" stroke="#1a1a1a" stroke-width="0.12">OG0003490</text>
<text x="538.70" y="255.87" font-size="7.0" text-anchor="middle" fill="#1a1a1a" stroke="#1a1a1a" stroke-width="0.12">RE, U</text>
<text x="479.90" y="264.78" font-size="7.0" text-anchor="start" fill="#1a1a1a" stroke="#1a1a1a" stroke-width="0.12">OG0003922</text>
<text x="538.70" y="264.78" font-size="7.0" text-anchor="middle" fill="#1a1a1a" stroke="#1a1a1a" stroke-width="0.12">RE</text>
<text x="479.90" y="273.69" font-size="7.0" text-anchor="start" fill="#1a1a1a" stroke="#1a1a1a" stroke-width="0.12">OG0008129</text>
<text x="538.70" y="273.69" font-size="7.0" text-anchor="middle" fill="#1a1a1a" stroke="#1a1a1a" stroke-width="0.12">RE</text>
<text x="479.90" y="282.60" font-size="7.0" text-anchor="start" fill="#1a1a1a" stroke="#1a1a1a" stroke-width="0.12">OG0008459</text>
<text x="538.70" y="282.60" font-size="7.0" text-anchor="middle" fill="#1a1a1a" stroke="#1a1a1a" stroke-width="0.12">RE</text>
<text x="479.90" y="291.51" font-size="7.0" text-anchor="start" fill="#1a1a1a" stroke="#1a1a1a" stroke-width="0.12">OG0010509</text>
<text x="538.70" y="291.51" font-size="7.0" text-anchor="middle" fill="#1a1a1a" stroke="#1a1a1a" stroke-width="0.12">NE</text>
<text x="479.90" y="300.43" font-size="7.0" text-anchor="start" fill="#1a1a1a" stroke="#1a1a1a" stroke-width="0.12">OG0013447</text>
<text x="538.70" y="300.43" font-size="7.0" text-anchor="middle" fill="#1a1a1a" stroke="#1a1a1a" stroke-width="0.12">RE</text>
<text x="479.90" y="309.34" font-size="7.0" text-anchor="start" fill="#1a1a1a" stroke="#1a1a1a" stroke-width="0.12">OG0013507</text>
<text x="538.70" y="309.34" font-size="7.0" text-anchor="middle" fill="#1a1a1a" stroke="#1a1a1a" stroke-width="0.12">RE, U</text>
<text x="616.60" y="268.68" font-size="7.02" text-anchor="middle" fill="#1a1a1a" stroke="#1a1a1a" stroke-width="0.12" clip-path="url(#cc)">photosystem II</text>
<line x1="476.8" y1="310.94" x2="685.0" y2="310.94" stroke="#111" stroke-width="1.15"/>
<text x="479.90" y="318.25" font-size="7.0" text-anchor="start" fill="#1a1a1a" stroke="#1a1a1a" stroke-width="0.12">OG0000166</text>
<text x="538.70" y="318.25" font-size="7.0" text-anchor="middle" fill="#1a1a1a" stroke="#1a1a1a" stroke-width="0.12">NE</text>
<text x="479.90" y="327.16" font-size="7.0" text-anchor="start" fill="#1a1a1a" stroke="#1a1a1a" stroke-width="0.12">OG0006622</text>
<text x="538.70" y="327.16" font-size="7.0" text-anchor="middle" fill="#1a1a1a" stroke="#1a1a1a" stroke-width="0.12">NE</text>
<text x="617.50" y="322.16" font-size="7.02" text-anchor="middle" fill="#1a1a1a" stroke="#1a1a1a" stroke-width="0.12" clip-path="url(#cc)">Light-harvesting complex (LHC) superfamily</text>
<line x1="476.8" y1="328.77" x2="685.0" y2="328.77" stroke="#111" stroke-width="1.15"/>
<text x="479.90" y="336.07" font-size="7.0" text-anchor="start" fill="#1a1a1a" stroke="#1a1a1a" stroke-width="0.12">OG0002074</text>
<text x="538.70" y="336.07" font-size="7.0" text-anchor="middle" fill="#1a1a1a" stroke="#1a1a1a" stroke-width="0.12">RE</text>
<text x="479.90" y="344.99" font-size="7.0" text-anchor="start" fill="#1a1a1a" stroke="#1a1a1a" stroke-width="0.12">OG0003979</text>
<text x="538.70" y="344.99" font-size="7.0" text-anchor="middle" fill="#1a1a1a" stroke="#1a1a1a" stroke-width="0.12">NE</text>
<text x="617.50" y="339.98" font-size="7.02" text-anchor="middle" fill="#1a1a1a" stroke="#1a1a1a" stroke-width="0.12" clip-path="url(#cc)">Phytochrome</text>
<line x1="476.8" y1="346.59" x2="685.0" y2="346.59" stroke="#111" stroke-width="1.15"/>
<text x="479.90" y="353.90" font-size="7.0" text-anchor="start" fill="#1a1a1a" stroke="#1a1a1a" stroke-width="0.12">OG0002689</text>
<text x="538.70" y="353.90" font-size="7.0" text-anchor="middle" fill="#1a1a1a" stroke="#1a1a1a" stroke-width="0.12">RE</text>
<text x="479.90" y="362.81" font-size="7.0" text-anchor="start" fill="#1a1a1a" stroke="#1a1a1a" stroke-width="0.12">OG0008783</text>
<text x="538.70" y="362.81" font-size="7.0" text-anchor="middle" fill="#1a1a1a" stroke="#1a1a1a" stroke-width="0.12">RE</text>
<text x="479.90" y="371.72" font-size="7.0" text-anchor="start" fill="#1a1a1a" stroke="#1a1a1a" stroke-width="0.12">OG0012525</text>
<text x="538.70" y="371.72" font-size="7.0" text-anchor="middle" fill="#1a1a1a" stroke="#1a1a1a" stroke-width="0.12">RE</text>
<text x="617.80" y="362.26" font-size="7.02" text-anchor="middle" fill="#1a1a1a" stroke="#1a1a1a" stroke-width="0.12" clip-path="url(#cc)">Small ribosomal subunit</text>
<line x1="476.8" y1="373.33" x2="685.0" y2="373.33" stroke="#111" stroke-width="1.15"/>
<text x="479.90" y="380.63" font-size="7.0" text-anchor="start" fill="#1a1a1a" stroke="#1a1a1a" stroke-width="0.12">OG0001593</text>
<text x="538.70" y="380.63" font-size="7.0" text-anchor="middle" fill="#1a1a1a" stroke="#1a1a1a" stroke-width="0.12">RE</text>
<text x="479.90" y="389.55" font-size="7.0" text-anchor="start" fill="#1a1a1a" stroke="#1a1a1a" stroke-width="0.12">OG0001748</text>
<text x="538.70" y="389.55" font-size="7.0" text-anchor="middle" fill="#1a1a1a" stroke="#1a1a1a" stroke-width="0.12">RE</text>
<text x="479.90" y="398.46" font-size="7.0" text-anchor="start" fill="#1a1a1a" stroke="#1a1a1a" stroke-width="0.12">OG0002451</text>
<text x="538.70" y="398.46" font-size="7.0" text-anchor="middle" fill="#1a1a1a" stroke="#1a1a1a" stroke-width="0.12">RE</text>
<text x="617.00" y="389.00" font-size="7.02" text-anchor="middle" fill="#1a1a1a" stroke="#1a1a1a" stroke-width="0.12" clip-path="url(#cc)">Photosynthetic electron transport chain</text>
<line x1="476.8" y1="400.06" x2="685.0" y2="400.06" stroke="#111" stroke-width="1.15"/>
<text x="479.90" y="407.37" font-size="7.0" text-anchor="start" fill="#1a1a1a" stroke="#1a1a1a" stroke-width="0.12">OG0000639</text>
<text x="538.70" y="407.37" font-size="7.0" text-anchor="middle" fill="#1a1a1a" stroke="#1a1a1a" stroke-width="0.12">RE</text>
<text x="479.90" y="416.28" font-size="7.0" text-anchor="start" fill="#1a1a1a" stroke="#1a1a1a" stroke-width="0.12">OG0001486</text>
<text x="538.70" y="416.28" font-size="7.0" text-anchor="middle" fill="#1a1a1a" stroke="#1a1a1a" stroke-width="0.12">RE</text>
<text x="479.90" y="425.19" font-size="7.0" text-anchor="start" fill="#1a1a1a" stroke="#1a1a1a" stroke-width="0.12">OG0002736</text>
<text x="538.70" y="425.19" font-size="7.0" text-anchor="middle" fill="#1a1a1a" stroke="#1a1a1a" stroke-width="0.12">RE</text>
<text x="479.90" y="434.11" font-size="7.0" text-anchor="start" fill="#1a1a1a" stroke="#1a1a1a" stroke-width="0.12">OG0003655</text>
<text x="538.70" y="434.11" font-size="7.0" text-anchor="middle" fill="#1a1a1a" stroke="#1a1a1a" stroke-width="0.12">RE</text>
<text x="479.90" y="443.02" font-size="7.0" text-anchor="start" fill="#1a1a1a" stroke="#1a1a1a" stroke-width="0.12">OG0012136</text>
<text x="538.70" y="443.02" font-size="7.0" text-anchor="middle" fill="#1a1a1a" stroke="#1a1a1a" stroke-width="0.12">RE</text>
<text x="618.00" y="424.64" font-size="7.02" text-anchor="middle" fill="#1a1a1a" stroke="#1a1a1a" stroke-width="0.12" clip-path="url(#cc)">NAD(P)H dehydrogenase complex</text>
<line x1="476.8" y1="444.62" x2="685.0" y2="444.62" stroke="#111" stroke-width="1.15"/>
<text x="479.90" y="451.93" font-size="7.0" text-anchor="start" fill="#1a1a1a" stroke="#1a1a1a" stroke-width="0.12">OG0005829</text>
<text x="538.70" y="451.93" font-size="7.0" text-anchor="middle" fill="#1a1a1a" stroke="#1a1a1a" stroke-width="0.12">RE</text>
<text x="479.90" y="460.84" font-size="7.0" text-anchor="start" fill="#1a1a1a" stroke="#1a1a1a" stroke-width="0.12">OG0007193</text>
<text x="538.70" y="460.84" font-size="7.0" text-anchor="middle" fill="#1a1a1a" stroke="#1a1a1a" stroke-width="0.12">RE</text>
<text x="479.90" y="469.75" font-size="7.0" text-anchor="start" fill="#1a1a1a" stroke="#1a1a1a" stroke-width="0.12">OG0010376</text>
<text x="538.70" y="469.75" font-size="7.0" text-anchor="middle" fill="#1a1a1a" stroke="#1a1a1a" stroke-width="0.12">NE</text>
<text x="619.00" y="460.29" font-size="7.02" text-anchor="middle" fill="#1a1a1a" stroke="#1a1a1a" stroke-width="0.12" clip-path="url(#cc)">Electron transport chain of respiration</text>
<line x1="476.8" y1="471.36" x2="685.0" y2="471.36" stroke="#111" stroke-width="1.15"/>
<text x="479.90" y="478.67" font-size="7.0" text-anchor="start" fill="#1a1a1a" stroke="#1a1a1a" stroke-width="0.12">OG0000508</text>
<text x="538.70" y="478.67" font-size="7.0" text-anchor="middle" fill="#1a1a1a" stroke="#1a1a1a" stroke-width="0.12">RE</text>
<text x="479.90" y="487.58" font-size="7.0" text-anchor="start" fill="#1a1a1a" stroke="#1a1a1a" stroke-width="0.12">OG0002553</text>
<text x="538.70" y="487.58" font-size="7.0" text-anchor="middle" fill="#1a1a1a" stroke="#1a1a1a" stroke-width="0.12">NE</text>
<text x="479.90" y="496.49" font-size="7.0" text-anchor="start" fill="#1a1a1a" stroke="#1a1a1a" stroke-width="0.12">OG0002800</text>
<text x="538.70" y="496.49" font-size="7.0" text-anchor="middle" fill="#1a1a1a" stroke="#1a1a1a" stroke-width="0.12">RE</text>
<text x="479.90" y="505.40" font-size="7.0" text-anchor="start" fill="#1a1a1a" stroke="#1a1a1a" stroke-width="0.12">OG0006262</text>
<text x="538.70" y="505.40" font-size="7.0" text-anchor="middle" fill="#1a1a1a" stroke="#1a1a1a" stroke-width="0.12">RE</text>
<text x="479.90" y="514.31" font-size="7.0" text-anchor="start" fill="#1a1a1a" stroke="#1a1a1a" stroke-width="0.12">OG0006741</text>
<text x="538.70" y="514.31" font-size="7.0" text-anchor="middle" fill="#1a1a1a" stroke="#1a1a1a" stroke-width="0.12">NE</text>
<text x="479.90" y="523.23" font-size="7.0" text-anchor="start" fill="#1a1a1a" stroke="#1a1a1a" stroke-width="0.12">OG0009954</text>
<text x="538.70" y="523.23" font-size="7.0" text-anchor="middle" fill="#1a1a1a" stroke="#1a1a1a" stroke-width="0.12">NE</text>
<text x="479.90" y="532.14" font-size="7.0" text-anchor="start" fill="#1a1a1a" stroke="#1a1a1a" stroke-width="0.12">OG0011956</text>
<text x="538.70" y="532.14" font-size="7.0" text-anchor="middle" fill="#1a1a1a" stroke="#1a1a1a" stroke-width="0.12">RE</text>
<text x="479.90" y="541.05" font-size="7.0" text-anchor="start" fill="#1a1a1a" stroke="#1a1a1a" stroke-width="0.12">OG0012850</text>
<text x="538.70" y="541.05" font-size="7.0" text-anchor="middle" fill="#1a1a1a" stroke="#1a1a1a" stroke-width="0.12">NE</text>
<text x="616.00" y="509.31" font-size="7.02" text-anchor="middle" fill="#1a1a1a" stroke="#1a1a1a" stroke-width="0.12" clip-path="url(#cc)">Mitochondrial respiratory chain complex</text>
<line x1="476.8" y1="542.66" x2="685.0" y2="542.66" stroke="#111" stroke-width="1.15"/>
<text x="479.90" y="549.96" font-size="7.0" text-anchor="start" fill="#1a1a1a" stroke="#1a1a1a" stroke-width="0.12">OG0002620</text>
<text x="538.70" y="549.96" font-size="7.0" text-anchor="middle" fill="#1a1a1a" stroke="#1a1a1a" stroke-width="0.12">NE</text>
<text x="479.90" y="558.87" font-size="7.0" text-anchor="start" fill="#1a1a1a" stroke="#1a1a1a" stroke-width="0.12">OG0006488</text>
<text x="538.70" y="558.87" font-size="7.0" text-anchor="middle" fill="#1a1a1a" stroke="#1a1a1a" stroke-width="0.12">RE</text>
<text x="479.90" y="567.79" font-size="7.0" text-anchor="start" fill="#1a1a1a" stroke="#1a1a1a" stroke-width="0.12">OG0007026</text>
<text x="538.70" y="567.79" font-size="7.0" text-anchor="middle" fill="#1a1a1a" stroke="#1a1a1a" stroke-width="0.12">NE</text>
<text x="479.90" y="576.70" font-size="7.0" text-anchor="start" fill="#1a1a1a" stroke="#1a1a1a" stroke-width="0.12">OG0012349</text>
<text x="538.70" y="576.70" font-size="7.0" text-anchor="middle" fill="#1a1a1a" stroke="#1a1a1a" stroke-width="0.12">NE, U</text>
<text x="479.90" y="585.61" font-size="7.0" text-anchor="start" fill="#1a1a1a" stroke="#1a1a1a" stroke-width="0.12">OG0012407</text>
<text x="538.70" y="585.61" font-size="7.0" text-anchor="middle" fill="#1a1a1a" stroke="#1a1a1a" stroke-width="0.12">NE</text>
<text x="618.60" y="567.24" font-size="7.02" text-anchor="middle" fill="#1a1a1a" stroke="#1a1a1a" stroke-width="0.12" clip-path="url(#cc)">Ribosomal protein</text>
<line x1="476.8" y1="587.22" x2="685.0" y2="587.22" stroke="#111" stroke-width="1.15"/>
<text x="479.90" y="594.52" font-size="7.0" text-anchor="start" fill="#1a1a1a" stroke="#1a1a1a" stroke-width="0.12">OG0012704</text>
<text x="538.70" y="594.52" font-size="7.0" text-anchor="middle" fill="#1a1a1a" stroke="#1a1a1a" stroke-width="0.12">NE</text>
<text x="617.50" y="593.97" font-size="7.02" text-anchor="middle" fill="#1a1a1a" stroke="#1a1a1a" stroke-width="0.12" clip-path="url(#cc)">ATP synthesis</text>
<line x1="476.8" y1="596.13" x2="685.0" y2="596.13" stroke="#111" stroke-width="1.15"/>
</svg>
</body></html>
